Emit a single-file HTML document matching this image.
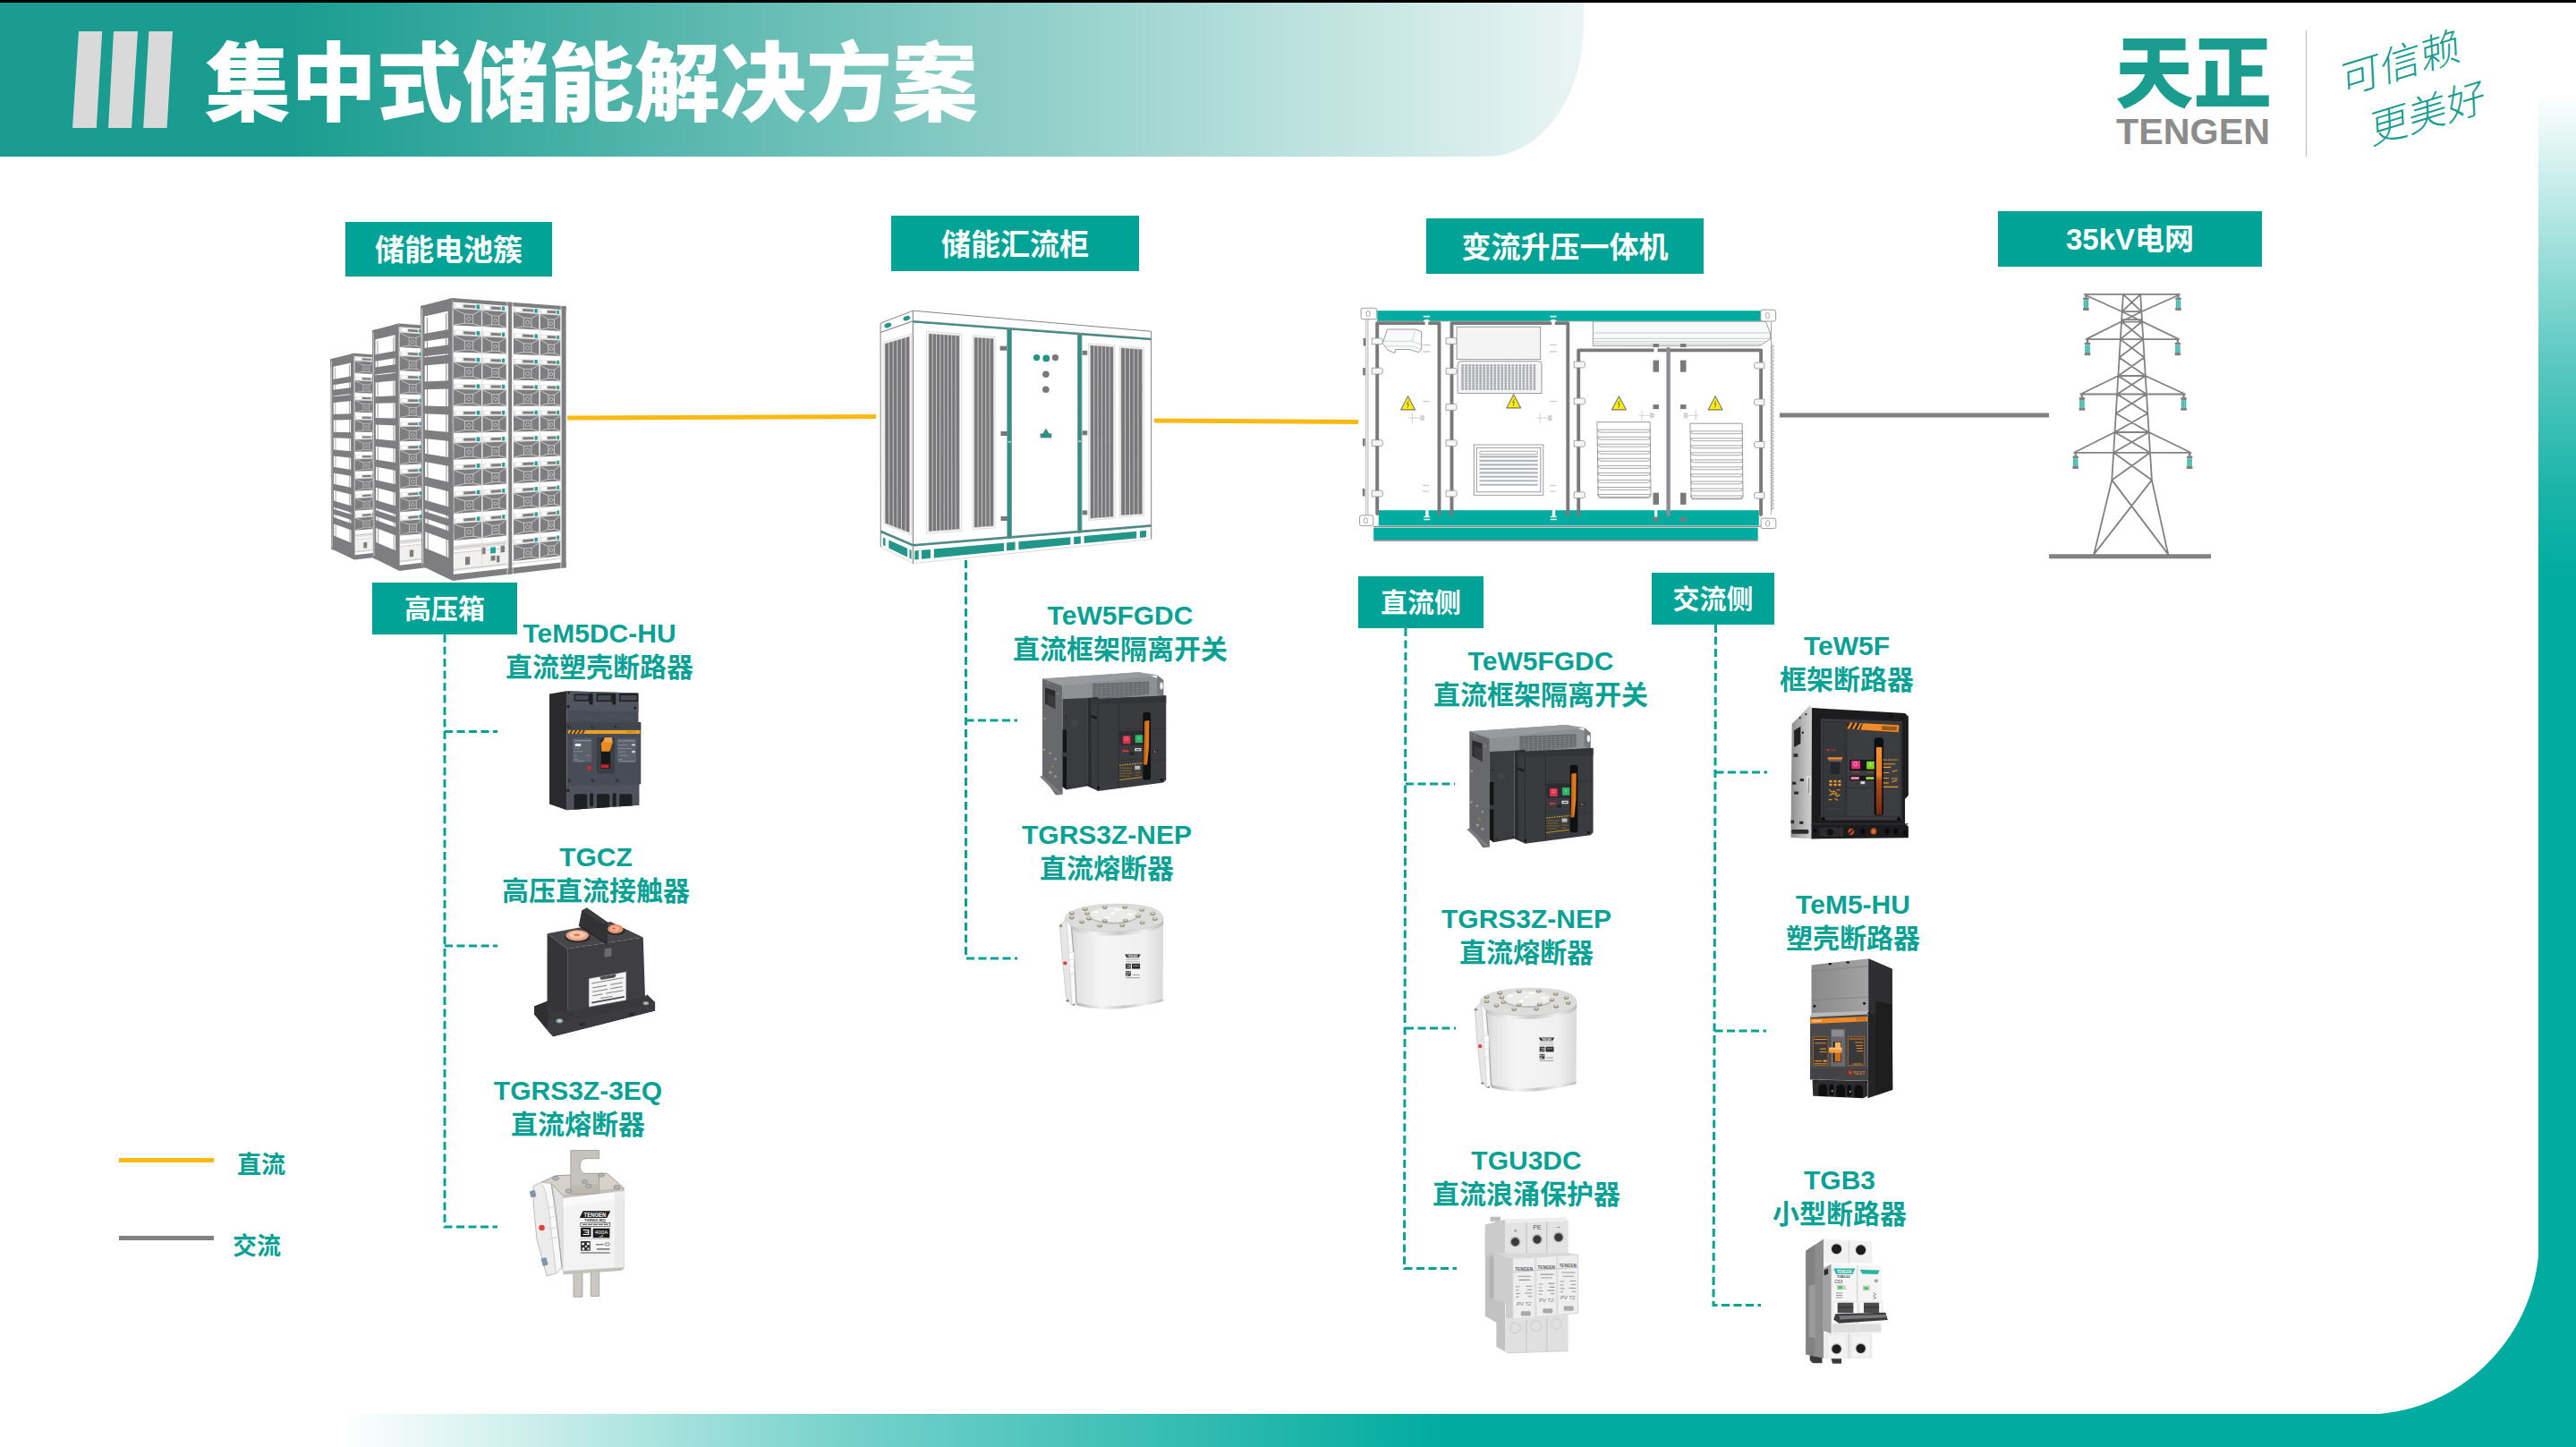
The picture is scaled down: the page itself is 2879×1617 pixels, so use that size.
<!DOCTYPE html>
<html lang="zh-CN">
<head>
<meta charset="utf-8">
<title>集中式储能解决方案</title>
<style>
html,body{margin:0;padding:0;}
body{width:2879px;height:1617px;position:relative;overflow:hidden;background:#fff;
 font-family:"Liberation Sans","Noto Sans CJK SC",sans-serif;}
.abs{position:absolute;}
#topline{left:0;top:0;width:2879px;height:3px;background:#000;}
#header{left:0;top:2px;width:1770px;height:173px;
 background:linear-gradient(90deg,#1a9d90 0,#1a9d90 330px,#e9f5f4 1770px);
 border-bottom-right-radius:108px 148px;}
#rstrip{left:2837px;top:105px;width:42px;height:1512px;
 background:linear-gradient(180deg,rgba(0,171,159,0) 0,rgba(0,171,159,.64) 296px,rgba(0,171,159,.9) 446px,#00ab9f 545px);}
#bbar{left:380px;top:1580px;width:2499px;height:37px;
 background:linear-gradient(90deg,rgba(0,171,159,0) 0,rgba(0,171,159,.55) 580px,#00ab9f 1240px);}
.bar{top:35px;width:31px;height:108px;background:#d9d9d9;transform:skewX(-5deg);}
#title{left:229px;top:23.5px;font-size:96px;line-height:140px;font-weight:900;color:#fff;white-space:nowrap;
 font-family:"Liberation Sans","Noto Sans CJK SC",sans-serif;letter-spacing:0;}
.lab{overflow:hidden;background:#00a396;color:#fff;font-weight:700;text-align:center;white-space:nowrap;}
.pt{color:#0aa195;font-weight:700;font-size:30px;line-height:37.5px;text-align:center;white-space:nowrap;width:400px;}
.leg{color:#0aa195;font-weight:700;font-size:27px;line-height:34px;white-space:nowrap;}
</style>
</head>
<body>
<div class="abs" id="header"></div>
<div class="abs" id="topline"></div>
<div class="abs" id="rstrip"></div>
<div class="abs" id="bbar"></div>
<div class="abs" id="title">集中式储能解决方案</div>

<!-- section labels -->
<div class="abs lab" style="left:386px;top:248px;width:231px;height:61px;font-size:33px;line-height:64px;">储能电池簇</div>
<div class="abs lab" style="left:996px;top:241px;width:277px;height:62px;font-size:33px;line-height:65px;">储能汇流柜</div>
<div class="abs lab" style="left:1594px;top:244px;width:310px;height:62px;font-size:33px;line-height:65px;">变流升压一体机</div>
<div class="abs lab" style="left:2233px;top:236px;width:295px;height:62px;font-size:33px;line-height:64px;">35kV电网</div>
<div class="abs lab" style="left:416px;top:651px;width:162px;height:58px;font-size:30px;line-height:60px;">高压箱</div>
<div class="abs lab" style="left:1518px;top:644px;width:140px;height:58px;font-size:30px;line-height:60px;">直流侧</div>
<div class="abs lab" style="left:1846px;top:640px;width:137px;height:58px;font-size:30px;line-height:60px;">交流侧</div>

<!-- product captions -->
<div class="abs pt" style="left:470px;top:689px;">TeM5DC-HU<br>直流塑壳断路器</div>
<div class="abs pt" style="left:466px;top:939px;">TGCZ<br>高压直流接触器</div>
<div class="abs pt" style="left:446px;top:1200px;">TGRS3Z-3EQ<br>直流熔断器</div>
<div class="abs pt" style="left:1052px;top:669px;">TeW5FGDC<br>直流框架隔离开关</div>
<div class="abs pt" style="left:1037px;top:914px;">TGRS3Z-NEP<br>直流熔断器</div>
<div class="abs pt" style="left:1522px;top:720px;">TeW5FGDC<br>直流框架隔离开关</div>
<div class="abs pt" style="left:1506px;top:1008px;">TGRS3Z-NEP<br>直流熔断器</div>
<div class="abs pt" style="left:1506px;top:1278px;">TGU3DC<br>直流浪涌保护器</div>
<div class="abs pt" style="left:1864px;top:703px;">TeW5F<br>框架断路器</div>
<div class="abs pt" style="left:1871px;top:992px;">TeM5-HU<br>塑壳断路器</div>
<div class="abs pt" style="left:1856px;top:1300px;">TGB3<br>小型断路器</div>

<!-- legend -->
<div class="abs" style="left:133px;top:1294px;width:106px;height:5px;background:#fdb913;"></div>
<div class="abs" style="left:133px;top:1381px;width:106px;height:5px;background:#808080;"></div>
<div class="abs leg" style="left:265px;top:1285px;">直流</div>
<div class="abs leg" style="left:260px;top:1375.5px;">交流</div>

<!-- main drawing layer -->
<svg class="abs" id="art" style="left:0;top:0" width="2879" height="1617" viewBox="0 0 2879 1617">
<g id="frame">
<path d="M2640 1581A197 197 0 0 0 2838 1383V1581Z" fill="#00ab9f"/>
<g fill="#d9d9d9"><path d="M88 35H114.2L107.8 143H81Z"/><path d="M127 35H154L147 143H121Z"/><path d="M166.4 35H193L186.6 143H160.2Z"/></g>
</g>
<g id="racks">
<use href="#rack" transform="translate(20.5,151.7) scale(0.742,0.73)"/>
<use href="#rack" transform="translate(21,70) scale(0.84,0.875)"/>
<g id="rack">
<polygon points="470.2,342.0 505.6,333.0 506.2,649.0 471.3,632.5" fill="#fff"/>
<polygon points="470.2,342.0 474.4,340.9 475.5,634.5 471.3,632.5" fill="#7e7e81"/>
<polygon points="500.6,334.3 505.6,333.0 506.2,649.0 501.3,646.7" fill="#7e7e81"/>
<polygon points="470.2,342.0 505.6,333.0 505.6,346.6 470.2,354.5" fill="#7e7e81"/>
<polygon points="473.9,372.9 502.1,367.9 502.1,377.2 473.9,381.5" fill="#7e7e81"/>
<polygon points="473.9,389.0 502.2,385.2 502.2,395.0 473.9,398.2" fill="#7e7e81"/>
<polygon points="473.9,399.4 502.2,396.3 502.2,406.0 474.0,408.5" fill="#7e7e81"/>
<polygon points="474.0,426.5 502.2,425.3 502.3,434.5 474.1,435.2" fill="#7e7e81"/>
<polygon points="474.1,453.6 502.3,454.3 502.3,463.5 474.2,462.3" fill="#7e7e81"/>
<polygon points="474.2,480.6 502.4,483.1 502.4,493.1 474.3,490.0" fill="#7e7e81"/>
<polygon points="474.3,506.8 502.4,511.2 502.4,521.0 474.4,516.1" fill="#7e7e81"/>
<polygon points="474.4,532.8 502.5,538.9 502.5,549.5 474.5,542.6" fill="#7e7e81"/>
<polygon points="474.5,558.7 502.5,566.7 502.6,577.1 474.6,568.5" fill="#7e7e81"/>
<polygon points="474.6,571.4 502.6,580.3 502.6,588.4 474.6,579.1" fill="#7e7e81"/>
<polygon points="474.6,584.0 502.6,593.8 502.6,604.3 474.6,593.9" fill="#7e7e81"/>
<polygon points="474.7,612.2 502.7,623.8 502.7,647.4 474.8,634.1" fill="#7e7e81"/>
<path d="M477.3 355.0L478.2 615.1M498.6 350.3L499.2 623.9" stroke="#7e7e81" stroke-width="0.9" fill="none"/>
<path d="M471.6 344.6L472.7 630.2" stroke="#fff" stroke-width="0.7" fill="none"/>
<polygon points="505.6,333.0 632.6,342.3 632.6,634.2 506.2,649.0" fill="#fff"/>
<polygon points="505.6,333.0 632.6,342.3 632.6,346.4 505.6,337.4" fill="#7e7e81"/>
<polygon points="506.2,642.0 632.6,627.8 632.6,634.2 506.2,649.0" fill="#7e7e81"/>
<polygon points="506.2,636.7 632.6,622.8 632.6,624.3 506.2,638.3" fill="#dcdad8"/>
<polygon points="568.1,337.6 571.9,337.9 572.2,641.3 568.4,641.7" fill="#7e7e81"/>
<polygon points="627.5,341.9 632.6,342.3 632.6,634.2 627.5,634.8" fill="#7e7e81"/>
<polygon points="505.6,333.0 506.4,333.1 507.0,648.9 506.2,649.0" fill="#7e7e81"/>
<g fill="#e4e3e2"><polygon points="506.9,338.4 537.9,340.6 537.9,346.8 506.9,344.7"/><polygon points="506.9,368.5 537.9,370.1 537.9,376.3 506.9,374.8"/><polygon points="507.0,398.6 538.0,399.7 538.0,405.8 507.0,404.9"/><polygon points="507.0,428.7 538.0,429.2 538.0,435.4 507.1,435.0"/><polygon points="507.1,458.8 538.0,458.7 538.0,464.9 507.1,465.1"/><polygon points="507.2,488.9 538.1,488.3 538.1,494.4 507.2,495.2"/><polygon points="507.2,519.0 538.1,517.8 538.1,523.9 507.2,525.3"/><polygon points="507.3,549.1 538.2,547.3 538.2,553.5 507.3,555.3"/><polygon points="507.3,579.2 538.2,576.9 538.2,583.0 507.3,585.4"/><polygon points="539.1,340.7 565.5,342.5 565.6,348.6 539.1,346.8"/><polygon points="539.2,370.2 565.6,371.6 565.6,377.6 539.2,376.3"/><polygon points="539.2,399.7 565.6,400.6 565.6,406.7 539.2,405.9"/><polygon points="539.3,429.2 565.6,429.6 565.6,435.7 539.3,435.4"/><polygon points="539.3,458.7 565.7,458.7 565.7,464.7 539.3,464.9"/><polygon points="539.3,488.2 565.7,487.7 565.7,493.7 539.4,494.4"/><polygon points="539.4,517.7 565.7,516.7 565.7,522.8 539.4,523.9"/><polygon points="539.4,547.2 565.8,545.8 565.8,551.8 539.4,553.4"/><polygon points="539.5,576.8 565.8,574.8 565.8,580.8 539.5,582.9"/><polygon points="573.9,343.1 602.4,345.1 602.4,351.0 573.9,349.1"/><polygon points="574.0,372.0 602.4,373.5 602.4,379.4 574.0,378.0"/><polygon points="574.0,400.9 602.4,401.8 602.4,407.8 574.0,406.9"/><polygon points="574.0,429.8 602.4,430.2 602.4,436.1 574.0,435.8"/><polygon points="574.0,458.6 602.4,458.6 602.4,464.5 574.0,464.7"/><polygon points="574.1,487.5 602.4,486.9 602.4,492.9 574.1,493.5"/><polygon points="574.1,516.4 602.5,515.3 602.5,521.2 574.1,522.4"/><polygon points="574.1,545.3 602.5,543.7 602.5,549.6 574.1,551.3"/><polygon points="574.1,574.2 602.5,572.0 602.5,577.9 574.1,580.2"/><polygon points="574.2,603.0 602.5,600.4 602.5,606.3 574.2,609.1"/><polygon points="603.6,345.2 626.3,346.8 626.3,352.6 603.6,351.1"/><polygon points="603.7,373.5 626.3,374.7 626.3,380.5 603.7,379.5"/><polygon points="603.7,401.9 626.3,402.7 626.3,408.5 603.7,407.8"/><polygon points="603.7,430.2 626.3,430.6 626.3,436.4 603.7,436.1"/><polygon points="603.7,458.6 626.3,458.5 626.3,464.3 603.7,464.5"/><polygon points="603.7,486.9 626.3,486.5 626.3,492.3 603.7,492.8"/><polygon points="603.7,515.3 626.3,514.4 626.3,520.2 603.7,521.2"/><polygon points="603.7,543.6 626.3,542.3 626.3,548.1 603.7,549.5"/><polygon points="603.8,571.9 626.3,570.3 626.3,576.1 603.8,577.8"/><polygon points="603.8,600.3 626.3,598.2 626.3,604.0 603.8,606.2"/></g>
<g fill="#7e7e81"><polygon points="506.9,344.7 537.9,346.8 537.9,365.1 506.9,363.4"/><polygon points="506.9,374.8 537.9,376.3 537.9,394.6 507.0,393.5"/><polygon points="507.0,404.9 538.0,405.8 538.0,424.1 507.0,423.5"/><polygon points="507.1,435.0 538.0,435.4 538.0,453.7 507.1,453.6"/><polygon points="507.1,465.1 538.0,464.9 538.1,483.2 507.2,483.7"/><polygon points="507.2,495.2 538.1,494.4 538.1,512.7 507.2,513.8"/><polygon points="507.2,525.3 538.1,523.9 538.2,542.3 507.3,543.9"/><polygon points="507.3,555.3 538.2,553.5 538.2,571.8 507.3,574.0"/><polygon points="507.3,585.4 538.2,583.0 538.2,601.3 507.4,604.1"/><polygon points="539.1,346.8 565.6,348.6 565.6,366.6 539.2,365.1"/><polygon points="539.2,376.3 565.6,377.6 565.6,395.6 539.2,394.6"/><polygon points="539.2,405.9 565.6,406.7 565.6,424.7 539.3,424.2"/><polygon points="539.3,435.4 565.6,435.7 565.7,453.7 539.3,453.7"/><polygon points="539.3,464.9 565.7,464.7 565.7,482.7 539.3,483.2"/><polygon points="539.4,494.4 565.7,493.7 565.7,511.7 539.4,512.7"/><polygon points="539.4,523.9 565.7,522.8 565.8,540.8 539.4,542.2"/><polygon points="539.4,553.4 565.8,551.8 565.8,569.8 539.5,571.7"/><polygon points="539.5,582.9 565.8,580.8 565.8,598.8 539.5,601.2"/><polygon points="573.9,349.1 602.4,351.0 602.4,368.6 574.0,367.1"/><polygon points="574.0,378.0 602.4,379.4 602.4,397.0 574.0,395.9"/><polygon points="574.0,406.9 602.4,407.8 602.4,425.3 574.0,424.8"/><polygon points="574.0,435.8 602.4,436.1 602.4,453.7 574.0,453.7"/><polygon points="574.0,464.7 602.4,464.5 602.4,482.1 574.1,482.6"/><polygon points="574.1,493.5 602.4,492.9 602.5,510.4 574.1,511.4"/><polygon points="574.1,522.4 602.5,521.2 602.5,538.8 574.1,540.3"/><polygon points="574.1,551.3 602.5,549.6 602.5,567.2 574.1,569.2"/><polygon points="574.1,580.2 602.5,577.9 602.5,595.5 574.2,598.1"/><polygon points="574.2,609.1 602.5,606.3 602.5,623.9 574.2,627.0"/><polygon points="603.6,351.1 626.3,352.6 626.3,369.9 603.7,368.7"/><polygon points="603.7,379.5 626.3,380.5 626.3,397.9 603.7,397.0"/><polygon points="603.7,407.8 626.3,408.5 626.3,425.8 603.7,425.4"/><polygon points="603.7,436.1 626.3,436.4 626.3,453.7 603.7,453.7"/><polygon points="603.7,464.5 626.3,464.3 626.3,481.7 603.7,482.1"/><polygon points="603.7,492.8 626.3,492.3 626.3,509.6 603.7,510.4"/><polygon points="603.7,521.2 626.3,520.2 626.3,537.5 603.7,538.7"/><polygon points="603.7,549.5 626.3,548.1 626.3,565.5 603.7,567.1"/><polygon points="603.8,577.8 626.3,576.1 626.3,593.4 603.8,595.4"/><polygon points="603.8,606.2 626.3,604.0 626.3,621.3 603.8,623.8"/></g>
<g fill="#fff"><polygon points="509.4,339.5 516.2,339.9 516.2,343.5 509.4,343.1"/><polygon points="509.4,369.5 516.2,369.9 516.2,373.4 509.4,373.1"/><polygon points="509.5,399.6 516.3,399.8 516.3,403.4 509.5,403.2"/><polygon points="509.5,429.6 516.3,429.7 516.3,433.3 509.5,433.2"/><polygon points="509.6,459.6 516.4,459.6 516.4,463.2 509.6,463.3"/><polygon points="509.6,489.7 516.4,489.6 516.4,493.1 509.6,493.3"/><polygon points="509.7,519.7 516.5,519.5 516.5,523.1 509.7,523.3"/><polygon points="509.7,549.8 516.5,549.4 516.6,553.0 509.8,553.4"/><polygon points="509.8,579.8 516.6,579.3 516.6,582.9 509.8,583.4"/><polygon points="541.2,341.7 547.1,342.1 547.1,345.6 541.3,345.2"/><polygon points="541.3,371.1 547.1,371.4 547.1,375.0 541.3,374.7"/><polygon points="541.3,400.6 547.1,400.8 547.1,404.3 541.3,404.2"/><polygon points="541.4,430.1 547.2,430.2 547.2,433.7 541.4,433.6"/><polygon points="541.4,459.6 547.2,459.5 547.2,463.1 541.4,463.1"/><polygon points="541.5,489.0 547.3,488.9 547.3,492.4 541.5,492.6"/><polygon points="541.5,518.5 547.3,518.3 547.3,521.8 541.5,522.0"/><polygon points="541.5,548.0 547.3,547.6 547.3,551.2 541.5,551.5"/><polygon points="541.6,577.4 547.4,577.0 547.4,580.5 541.6,581.0"/><polygon points="576.2,344.1 582.5,344.5 582.5,348.0 576.2,347.6"/><polygon points="576.2,372.9 582.5,373.3 582.5,376.7 576.2,376.4"/><polygon points="576.3,401.8 582.5,402.0 582.5,405.4 576.3,405.2"/><polygon points="576.3,430.6 582.5,430.7 582.5,434.2 576.3,434.1"/><polygon points="576.3,459.5 582.6,459.4 582.6,462.9 576.3,462.9"/><polygon points="576.3,488.3 582.6,488.2 582.6,491.6 576.3,491.8"/><polygon points="576.4,517.1 582.6,516.9 582.6,520.3 576.4,520.6"/><polygon points="576.4,546.0 582.6,545.6 582.6,549.1 576.4,549.4"/><polygon points="576.4,574.8 582.6,574.3 582.6,577.8 576.4,578.3"/><polygon points="576.4,603.6 582.7,603.1 582.7,606.5 576.4,607.1"/><polygon points="605.5,346.1 610.4,346.5 610.4,349.9 605.5,349.5"/><polygon points="605.5,374.4 610.4,374.7 610.4,378.1 605.5,377.8"/><polygon points="605.5,402.8 610.4,402.9 610.4,406.3 605.5,406.2"/><polygon points="605.5,431.1 610.5,431.1 610.5,434.5 605.5,434.5"/><polygon points="605.5,459.4 610.5,459.4 610.5,462.7 605.5,462.8"/><polygon points="605.5,487.7 610.5,487.6 610.5,491.0 605.5,491.1"/><polygon points="605.5,516.0 610.5,515.8 610.5,519.2 605.5,519.4"/><polygon points="605.5,544.3 610.5,544.0 610.5,547.4 605.5,547.7"/><polygon points="605.6,572.6 610.5,572.2 610.5,575.6 605.6,576.0"/><polygon points="605.6,600.9 610.5,600.5 610.5,603.8 605.6,604.3"/></g>
<g fill="#7e7e81"><polygon points="518.0,340.4 531.1,341.3 531.1,344.2 518.0,343.4"/><polygon points="518.1,370.3 531.1,370.9 531.1,373.9 518.1,373.2"/><polygon points="518.1,400.1 531.1,400.6 531.1,403.5 518.1,403.1"/><polygon points="518.2,430.0 531.2,430.2 531.2,433.2 518.2,433.0"/><polygon points="518.2,459.9 531.2,459.9 531.2,462.8 518.2,462.9"/><polygon points="518.3,489.8 531.3,489.5 531.3,492.5 518.3,492.8"/><polygon points="518.3,519.7 531.3,519.2 531.3,522.2 518.4,522.7"/><polygon points="518.4,549.6 531.4,548.8 531.4,551.8 518.4,552.6"/><polygon points="518.4,579.5 531.4,578.5 531.4,581.5 518.5,582.5"/><polygon points="548.6,342.5 559.7,343.3 559.7,346.2 548.6,345.4"/><polygon points="548.7,371.8 559.8,372.4 559.8,375.3 548.7,374.8"/><polygon points="548.7,401.2 559.8,401.5 559.8,404.4 548.7,404.1"/><polygon points="548.8,430.5 559.8,430.7 559.8,433.6 548.8,433.4"/><polygon points="548.8,459.8 559.9,459.8 559.9,462.7 548.8,462.8"/><polygon points="548.8,489.2 559.9,488.9 559.9,491.8 548.8,492.1"/><polygon points="548.9,518.5 559.9,518.1 559.9,521.0 548.9,521.4"/><polygon points="548.9,547.8 560.0,547.2 560.0,550.1 548.9,550.8"/><polygon points="548.9,577.2 560.0,576.3 560.0,579.3 549.0,580.1"/><polygon points="584.2,344.9 596.1,345.8 596.1,348.6 584.2,347.8"/><polygon points="584.2,373.6 596.1,374.3 596.1,377.1 584.2,376.5"/><polygon points="584.2,402.3 596.2,402.7 596.2,405.6 584.2,405.2"/><polygon points="584.2,431.0 596.2,431.2 596.2,434.1 584.2,433.9"/><polygon points="584.3,459.7 596.2,459.7 596.2,462.5 584.3,462.6"/><polygon points="584.3,488.4 596.2,488.2 596.2,491.0 584.3,491.3"/><polygon points="584.3,517.1 596.2,516.6 596.2,519.5 584.3,520.0"/><polygon points="584.3,545.8 596.2,545.1 596.2,548.0 584.3,548.7"/><polygon points="584.3,574.5 596.3,573.6 596.3,576.4 584.3,577.4"/><polygon points="584.4,603.2 596.3,602.1 596.3,604.9 584.4,606.1"/><polygon points="611.8,346.9 621.3,347.5 621.3,350.3 611.8,349.7"/><polygon points="611.8,375.1 621.3,375.5 621.3,378.3 611.8,377.9"/><polygon points="611.8,403.3 621.3,403.6 621.3,406.4 611.8,406.1"/><polygon points="611.8,431.4 621.3,431.6 621.3,434.4 611.8,434.3"/><polygon points="611.8,459.6 621.3,459.6 621.3,462.4 611.8,462.5"/><polygon points="611.8,487.8 621.3,487.6 621.3,490.4 611.8,490.7"/><polygon points="611.8,516.0 621.3,515.7 621.3,518.5 611.8,518.8"/><polygon points="611.8,544.2 621.3,543.7 621.3,546.5 611.9,547.0"/><polygon points="611.9,572.4 621.3,571.7 621.3,574.5 611.9,575.2"/><polygon points="611.9,600.6 621.3,599.7 621.3,602.5 611.9,603.4"/></g>
<g fill="#1aa396"><polygon points="532.6,340.5 536.0,340.7 536.0,345.2 532.6,344.9"/><polygon points="532.6,370.1 536.1,370.3 536.1,374.7 532.7,374.6"/><polygon points="532.7,399.7 536.1,399.9 536.1,404.3 532.7,404.2"/><polygon points="532.7,429.4 536.1,429.4 536.1,433.9 532.7,433.8"/><polygon points="532.8,459.0 536.2,459.0 536.2,463.4 532.8,463.4"/><polygon points="532.8,488.6 536.2,488.5 536.2,493.0 532.8,493.1"/><polygon points="532.9,518.2 536.3,518.1 536.3,522.5 532.9,522.7"/><polygon points="532.9,547.9 536.3,547.7 536.3,552.1 532.9,552.3"/><polygon points="533.0,577.5 536.4,577.2 536.4,581.7 533.0,581.9"/><polygon points="561.1,342.5 564.0,342.7 564.0,347.0 561.1,346.8"/><polygon points="561.1,371.6 564.0,371.7 564.0,376.1 561.1,376.0"/><polygon points="561.1,400.7 564.0,400.8 564.0,405.2 561.1,405.1"/><polygon points="561.2,429.8 564.1,429.9 564.1,434.2 561.2,434.2"/><polygon points="561.2,458.9 564.1,458.9 564.1,463.3 561.2,463.3"/><polygon points="561.2,488.0 564.1,488.0 564.1,492.3 561.2,492.4"/><polygon points="561.3,517.1 564.2,517.0 564.2,521.4 561.3,521.5"/><polygon points="561.3,546.3 564.2,546.1 564.2,550.4 561.3,550.6"/><polygon points="561.3,575.4 564.2,575.1 564.2,579.5 561.3,579.7"/><polygon points="597.5,345.0 600.7,345.2 600.7,349.5 597.5,349.3"/><polygon points="597.6,373.5 600.7,373.6 600.7,377.9 597.6,377.7"/><polygon points="597.6,401.9 600.7,402.0 600.7,406.3 597.6,406.2"/><polygon points="597.6,430.4 600.7,430.4 600.7,434.7 597.6,434.6"/><polygon points="597.6,458.8 600.7,458.8 600.7,463.1 597.6,463.1"/><polygon points="597.6,487.3 600.7,487.2 600.7,491.5 597.6,491.5"/><polygon points="597.6,515.7 600.8,515.6 600.8,519.9 597.6,520.0"/><polygon points="597.7,544.2 600.8,544.0 600.8,548.3 597.7,548.5"/><polygon points="597.7,572.6 600.8,572.4 600.8,576.7 597.7,576.9"/><polygon points="597.7,601.1 600.8,600.8 600.8,605.1 597.7,605.4"/><polygon points="622.4,346.8 624.9,346.9 624.9,351.1 622.4,351.0"/><polygon points="622.4,374.8 624.9,374.9 624.9,379.1 622.4,379.0"/><polygon points="622.4,402.8 624.9,402.8 624.9,407.0 622.4,407.0"/><polygon points="622.4,430.8 624.9,430.8 624.9,435.0 622.4,435.0"/><polygon points="622.4,458.8 624.9,458.8 624.9,463.0 622.4,463.0"/><polygon points="622.4,486.8 624.9,486.7 624.9,490.9 622.4,491.0"/><polygon points="622.4,514.8 624.9,514.7 624.9,518.9 622.4,519.0"/><polygon points="622.4,542.8 624.9,542.6 624.9,546.8 622.4,547.0"/><polygon points="622.4,570.8 624.9,570.6 624.9,574.8 622.4,575.0"/><polygon points="622.4,598.8 624.9,598.5 624.9,602.7 622.4,603.0"/></g>
<path d="M507.8 345.4L519.3 350.9M536.9 347.3L528.6 351.5M507.9 362.8L519.3 361.1M537.0 364.4L528.6 361.6M519.3 350.9L528.6 351.5L528.6 361.6L519.3 361.1ZM507.9 375.4L519.3 380.8M537.0 376.8L528.6 381.2M507.9 392.9L519.4 390.9M537.0 394.0L528.7 391.3M519.3 380.8L528.6 381.2L528.7 391.3L519.4 390.9ZM507.9 405.5L519.4 410.6M537.0 406.4L528.7 410.9M508.0 423.0L519.4 420.8M537.1 423.5L528.7 421.0M519.4 410.6L528.7 410.9L528.7 421.0L519.4 420.8ZM508.0 435.6L519.4 440.5M537.1 435.9L528.7 440.6M508.0 453.0L519.5 450.7M537.1 453.1L528.7 450.7M519.4 440.5L528.7 440.6L528.7 450.7L519.5 450.7ZM508.0 465.7L519.5 470.4M537.1 465.5L528.8 470.3M508.1 483.1L519.5 480.5M537.1 482.6L528.8 480.4M519.5 470.4L528.8 470.3L528.8 480.4L519.5 480.5ZM508.1 495.7L519.5 500.2M537.2 495.0L528.8 500.0M508.1 513.2L519.6 510.4M537.2 512.2L528.8 510.1M519.5 500.2L528.8 500.0L528.8 510.1L519.6 510.4ZM508.2 525.8L519.6 530.1M537.2 524.6L528.9 529.7M508.2 543.3L519.6 540.3M537.2 541.7L528.9 539.8M519.6 530.1L528.9 529.7L528.9 539.8L519.6 540.3ZM508.2 555.9L519.7 560.0M537.2 554.1L528.9 559.4M508.2 573.3L519.7 570.1M537.3 571.3L528.9 569.5M519.7 560.0L528.9 559.4L528.9 569.5L519.7 570.1ZM508.3 586.0L519.7 589.8M537.3 583.7L529.0 589.1M508.3 603.4L519.7 600.0M537.3 600.8L529.0 599.2M519.7 589.8L529.0 589.1L529.0 599.2L519.7 600.0ZM539.9 347.5L549.7 352.8M564.8 349.1L557.6 353.3M540.0 364.6L549.7 362.8M564.8 366.0L557.6 363.2M549.7 352.8L557.6 353.3L557.6 363.2L549.7 362.8ZM540.0 377.0L549.8 382.1M564.8 378.2L557.7 382.5M540.0 394.1L549.8 392.1M564.8 395.0L557.7 392.4M549.8 382.1L557.7 382.5L557.7 392.4L549.8 392.1ZM540.0 406.5L549.8 411.5M564.8 407.2L557.7 411.7M540.0 423.6L549.8 421.4M564.8 424.1L557.7 421.6M549.8 411.5L557.7 411.7L557.7 421.6L549.8 421.4ZM540.1 436.0L549.8 440.8M564.9 436.3L557.7 440.8M540.1 453.1L549.8 450.7M564.9 453.1L557.8 450.8M549.8 440.8L557.7 440.8L557.8 450.8L549.8 450.7ZM540.1 465.5L549.9 470.1M564.9 465.3L557.8 470.0M540.1 482.6L549.9 480.1M564.9 482.1L557.8 479.9M549.9 470.1L557.8 470.0L557.8 479.9L549.9 480.1ZM540.1 495.0L549.9 499.4M564.9 494.3L557.8 499.2M540.2 512.1L549.9 509.4M564.9 511.2L557.8 509.1M549.9 499.4L557.8 499.2L557.8 509.1L549.9 509.4ZM540.2 524.4L549.9 528.7M564.9 523.4L557.8 528.4M540.2 541.6L550.0 538.7M565.0 540.2L557.9 538.3M549.9 528.7L557.8 528.4L557.9 538.3L550.0 538.7ZM540.2 553.9L550.0 558.0M565.0 552.4L557.9 557.5M540.3 571.0L550.0 568.0M565.0 569.3L557.9 567.5M550.0 558.0L557.9 557.5L557.9 567.5L550.0 568.0ZM540.3 583.4L550.0 587.4M565.0 581.5L557.9 586.7M540.3 600.5L550.0 597.3M565.0 598.3L557.9 596.6M550.0 587.4L557.9 586.7L557.9 596.6L550.0 597.3ZM574.8 349.8L585.3 355.1M601.5 351.5L593.8 355.6M574.8 366.5L585.3 364.8M601.5 368.0L593.9 365.3M585.3 355.1L593.8 355.6L593.9 365.3L585.3 364.8ZM574.8 378.6L585.3 383.7M601.5 379.9L593.9 384.1M574.8 395.4L585.3 393.5M601.5 396.4L593.9 393.8M585.3 383.7L593.9 384.1L593.9 393.8L585.3 393.5ZM574.8 407.5L585.4 412.4M601.6 408.3L593.9 412.6M574.9 424.2L585.4 422.2M601.6 424.8L593.9 422.3M585.4 412.4L593.9 412.6L593.9 422.3L585.4 422.2ZM574.9 436.4L585.4 441.1M601.6 436.7L593.9 441.2M574.9 453.1L585.4 450.8M601.6 453.1L593.9 450.9M585.4 441.1L593.9 441.2L593.9 450.9L585.4 450.8ZM574.9 465.2L585.4 469.8M601.6 465.1L593.9 469.7M574.9 482.0L585.4 479.5M601.6 481.5L593.9 479.4M585.4 469.8L593.9 469.7L593.9 479.4L585.4 479.5ZM574.9 494.1L585.4 498.4M601.6 493.4L593.9 498.2M574.9 510.8L585.4 508.2M601.6 509.9L593.9 507.9M585.4 498.4L593.9 498.2L593.9 507.9L585.4 508.2ZM574.9 523.0L585.4 527.1M601.6 521.8L594.0 526.7M575.0 539.7L585.5 536.9M601.6 538.3L594.0 536.4M585.4 527.1L594.0 526.7L594.0 536.4L585.5 536.9ZM575.0 551.8L585.5 555.8M601.6 550.2L594.0 555.2M575.0 568.6L585.5 565.5M601.6 566.7L594.0 564.9M585.5 555.8L594.0 555.2L594.0 564.9L585.5 565.5ZM575.0 580.7L585.5 584.4M601.6 578.6L594.0 583.8M575.0 597.4L585.5 594.2M601.6 595.0L594.0 593.4M585.5 584.4L594.0 583.8L594.0 593.4L585.5 594.2ZM575.0 609.6L585.5 613.1M601.7 607.0L594.0 612.3M575.0 626.3L585.5 622.9M601.7 623.4L594.0 622.0M585.5 613.1L594.0 612.3L594.0 622.0L585.5 622.9ZM604.3 351.7L612.7 356.8M625.6 353.1L619.5 357.2M604.3 368.2L612.7 366.4M625.6 369.3L619.5 366.8M612.7 356.8L619.5 357.2L619.5 366.8L612.7 366.4ZM604.3 380.1L612.7 385.0M625.6 381.1L619.5 385.3M604.3 396.5L612.7 394.5M625.6 397.3L619.5 394.8M612.7 385.0L619.5 385.3L619.5 394.8L612.7 394.5ZM604.4 408.4L612.7 413.1M625.6 409.0L619.5 413.3M604.4 424.8L612.7 422.7M625.6 425.2L619.5 422.9M612.7 413.1L619.5 413.3L619.5 422.9L612.7 422.7ZM604.4 436.7L612.7 441.3M625.6 437.0L619.5 441.4M604.4 453.1L612.7 450.9M625.6 453.2L619.5 450.9M612.7 441.3L619.5 441.4L619.5 450.9L612.7 450.9ZM604.4 465.0L612.7 469.5M625.6 464.9L619.5 469.4M604.4 481.5L612.7 479.1M625.6 481.1L619.5 479.0M612.7 469.5L619.5 469.4L619.5 479.0L612.7 479.1ZM604.4 493.4L612.7 497.7M625.6 492.9L619.5 497.5M604.4 509.8L612.7 507.3M625.6 509.1L619.5 507.0M612.7 497.7L619.5 497.5L619.5 507.0L612.7 507.3ZM604.4 521.7L612.7 525.9M625.6 520.8L619.5 525.5M604.4 538.1L612.7 535.4M625.6 537.0L619.5 535.1M612.7 525.9L619.5 525.5L619.5 535.1L612.7 535.4ZM604.4 550.0L612.8 554.0M625.6 548.7L619.5 553.6M604.4 566.5L612.8 563.6M625.6 565.0L619.5 563.1M612.8 554.0L619.5 553.6L619.5 563.1L612.8 563.6ZM604.4 578.4L612.8 582.2M625.6 576.7L619.5 581.7M604.4 594.8L612.8 591.8M625.6 592.9L619.5 591.2M612.8 582.2L619.5 581.7L619.5 591.2L612.8 591.8ZM604.4 606.7L612.8 610.4M625.6 604.6L619.5 609.7M604.4 623.1L612.8 620.0M625.6 620.8L619.5 619.3M612.8 610.4L619.5 609.7L619.5 619.3L612.8 620.0Z" stroke="#dcdad8" stroke-width="0.8" fill="none"/>
<g fill="none" stroke="#dcdad8" stroke-width="0.7"><circle cx="523.9" cy="356.3" r="2.2"/><circle cx="524.0" cy="386.0" r="2.2"/><circle cx="524.0" cy="415.8" r="2.2"/><circle cx="524.1" cy="445.6" r="2.2"/><circle cx="524.1" cy="475.4" r="2.2"/><circle cx="524.2" cy="505.2" r="2.2"/><circle cx="524.2" cy="535.0" r="2.2"/><circle cx="524.3" cy="564.7" r="2.2"/><circle cx="524.3" cy="594.5" r="2.2"/><circle cx="553.7" cy="358.0" r="1.9"/><circle cx="553.7" cy="387.3" r="1.9"/><circle cx="553.8" cy="416.5" r="1.9"/><circle cx="553.8" cy="445.8" r="1.9"/><circle cx="553.8" cy="475.0" r="1.9"/><circle cx="553.9" cy="504.3" r="1.9"/><circle cx="553.9" cy="533.5" r="1.9"/><circle cx="553.9" cy="562.8" r="1.9"/><circle cx="554.0" cy="592.0" r="1.9"/><circle cx="589.6" cy="360.2" r="2.2"/><circle cx="589.6" cy="388.8" r="2.2"/><circle cx="589.6" cy="417.4" r="2.2"/><circle cx="589.6" cy="446.0" r="2.2"/><circle cx="589.7" cy="474.6" r="2.2"/><circle cx="589.7" cy="503.2" r="2.2"/><circle cx="589.7" cy="531.8" r="2.2"/><circle cx="589.7" cy="560.4" r="2.2"/><circle cx="589.7" cy="589.0" r="2.2"/><circle cx="589.8" cy="617.6" r="2.2"/><circle cx="616.1" cy="361.8" r="1.9"/><circle cx="616.1" cy="389.9" r="1.9"/><circle cx="616.1" cy="418.0" r="1.9"/><circle cx="616.1" cy="446.1" r="1.9"/><circle cx="616.1" cy="474.2" r="1.9"/><circle cx="616.1" cy="502.4" r="1.9"/><circle cx="616.1" cy="530.5" r="1.9"/><circle cx="616.1" cy="558.6" r="1.9"/><circle cx="616.1" cy="586.7" r="1.9"/><circle cx="616.1" cy="614.8" r="1.9"/></g>
<polygon points="507.4,609.6 565.8,604.1 565.8,609.6 507.4,615.3" fill="#e4e3e2"/>
<polygon points="507.4,617.8 565.8,612.0 565.8,630.1 507.4,636.5" fill="#f1f0ef"/>
<path d="M507.4 612.1L565.8 606.6M507.4 617.8L565.8 612.0M507.4 636.5L565.8 630.1" stroke="#bdbcbb" stroke-width="0.7" fill="none"/>
<polygon points="520.0,622.6 525.2,622.1 525.2,630.8 520.0,631.4" fill="#7e7e81"/>
<polygon points="538.0,612.1 542.6,611.7 542.6,619.1 538.0,619.5" fill="#7e7e81"/>
<polygon points="548.2,611.7 553.9,611.2 553.9,617.9 548.2,618.5" fill="#1aa396"/>
<polygon points="548.5,621.3 553.6,620.7 553.6,626.3 548.5,626.8" fill="#7e7e81"/>
<polygon points="559.5,610.0 564.1,609.6 564.1,616.9 559.5,617.4" fill="#7e7e81"/>
<polygon points="555.0,621.2 558.4,620.8 558.4,628.2 555.0,628.6" fill="#7e7e81"/>
<path d="M538.5 339.7L538.9 632.8M603.0 344.3L603.1 625.7M566.8 337.5L567.1 641.9M572.9 337.9L573.2 641.2M626.9 341.9L626.9 634.9" stroke="#dcdad8" stroke-width="0.9" fill="none"/>
</g>
</g>
<g id="cabinet">
<polygon points="984.1,361.2 1020.4,347.2 1020.4,610.5 984.3,595.0" fill="#fff" stroke="#858588" stroke-width="1" stroke-linejoin="round"/>
<polygon points="1020.4,347.2 1286.6,370.3 1286.7,588.5 1020.4,610.5" fill="#fff" stroke="#858588" stroke-width="1" stroke-linejoin="round"/>
<polygon points="984.3,595.0 1020.4,610.5 1020.4,629.5 984.3,611.2" fill="#fff" stroke="#d4d0cf" stroke-width="0.8"/>
<polygon points="1020.4,610.5 1286.7,588.5 1286.7,602.6 1020.4,629.5" fill="#fff" stroke="#d4d0cf" stroke-width="0.8"/>
<path d="M984.1 371.5L1020.4 358.8" stroke="#858588" stroke-width="1.2" fill="none"/>
<path d="M1020.4 359.3L1286.6 379.0" stroke="#858588" stroke-width="2.6" fill="none"/>
<path d="M1020.4 359.6L1286.6 379.2" stroke="#23968a" stroke-width="1.3" fill="none"/>
<path d="M1020.4 609.2L1286.7 587.4M984.3 593.8L1020.4 609.2" stroke="#858588" stroke-width="2.6" fill="none"/>
<path d="M1020.4 609.4L1286.7 587.6M984.3 594.1L1020.4 609.4" stroke="#23968a" stroke-width="1.3" fill="none"/>
<ellipse cx="992.1" cy="363.5" rx="4" ry="2.6" fill="#23968a" transform="rotate(-21 992.1 362.9)"/>
<ellipse cx="1013.1" cy="355.7" rx="4" ry="2.6" fill="#23968a" transform="rotate(-21 1013.1 355.1)"/>
<polygon points="987.0,382.8 1018.6,373.0 1018.6,598.2 987.2,585.8" fill="#fff" stroke="#d4d0cf" stroke-width="0.8"/><polygon points="988.9,384.1 1016.7,375.7 1016.7,595.4 989.1,584.7" fill="#78787b" stroke="#d4d0cf" stroke-width="0.6"/><path d="M993.5 382.7L993.7 586.5M998.2 381.3L998.3 588.3M1002.8 379.9L1002.9 590.0M1007.4 378.5L1007.5 591.8M1012.1 377.1L1012.1 593.6" stroke="#d4d0cf" stroke-width="0.9" fill="none"/>
<polygon points="1035.6,370.4 1074.7,373.3 1074.7,593.3 1035.6,596.2" fill="#fff" stroke="#d4d0cf" stroke-width="0.8"/><polygon points="1037.9,372.7 1072.4,375.1 1072.4,591.4 1037.9,594.0" fill="#78787b" stroke="#d4d0cf" stroke-width="0.6"/><path d="M1042.2 373.0L1042.2 593.6M1046.5 373.3L1046.5 593.3M1050.8 373.6L1050.8 593.0M1055.1 373.9L1055.2 592.7M1059.4 374.2L1059.5 592.4M1063.7 374.5L1063.8 592.1M1068.1 374.8L1068.1 591.8" stroke="#d4d0cf" stroke-width="0.9" fill="none"/>
<polygon points="1087.2,374.7 1112.0,376.5 1112.0,589.8 1087.2,591.6" fill="#fff" stroke="#d4d0cf" stroke-width="0.8"/><polygon points="1088.7,376.8 1110.5,378.3 1110.5,587.9 1088.7,589.5" fill="#78787b" stroke="#d4d0cf" stroke-width="0.6"/><path d="M1093.1 377.1L1093.1 589.2M1097.4 377.4L1097.4 588.9M1101.8 377.7L1101.8 588.6M1106.1 378.0L1106.2 588.2" stroke="#d4d0cf" stroke-width="0.9" fill="none"/>
<polygon points="1216.6,383.8 1246.1,385.9 1246.2,579.2 1216.7,581.4" fill="#fff" stroke="#d4d0cf" stroke-width="0.8"/><polygon points="1218.4,385.7 1244.4,387.6 1244.4,577.6 1218.4,579.4" fill="#78787b" stroke="#d4d0cf" stroke-width="0.6"/><path d="M1222.7 386.1L1222.8 579.1M1227.0 386.4L1227.1 578.8M1231.4 386.7L1231.4 578.5M1235.7 387.0L1235.8 578.2M1240.0 387.3L1240.1 577.9" stroke="#d4d0cf" stroke-width="0.9" fill="none"/>
<polygon points="1251.2,386.7 1278.4,388.7 1278.4,576.0 1251.3,578.0" fill="#fff" stroke="#d4d0cf" stroke-width="0.8"/><polygon points="1252.8,388.6 1276.7,390.3 1276.8,574.4 1252.9,576.1" fill="#78787b" stroke="#d4d0cf" stroke-width="0.6"/><path d="M1257.6 389.0L1257.7 575.7M1262.4 389.3L1262.5 575.4M1267.2 389.7L1267.2 575.0M1271.9 390.0L1272.0 574.7" stroke="#d4d0cf" stroke-width="0.9" fill="none"/>
<polygon points="1125.8,367.4 1130.3,367.8 1130.4,601.4 1125.9,601.8" fill="#23968a" stroke="#858588" stroke-width="0.9"/>
<path d="M1126.4 493.8L1129.8 493.8" stroke="#dff0ee" stroke-width="1.2" fill="none"/>
<polygon points="1204.6,373.6 1208.9,374.0 1208.9,594.9 1204.7,595.3" fill="#23968a" stroke="#858588" stroke-width="0.9"/>
<path d="M1205.2 493.2L1208.4 493.1" stroke="#dff0ee" stroke-width="1.2" fill="none"/>
<rect x="1117.6" y="386.7" width="7.6" height="5" fill="#78787b"/>
<rect x="1118.5" y="482.0" width="7.6" height="5" fill="#78787b"/>
<rect x="1118.5" y="577.0" width="7.6" height="5" fill="#78787b"/>
<rect x="1209.6" y="391.8" width="5.6" height="5" fill="#78787b"/>
<rect x="1209.6" y="481.3" width="5.6" height="5" fill="#78787b"/>
<rect x="1209.6" y="570.4" width="5.6" height="5" fill="#78787b"/>
<circle cx="1158.6" cy="399.6" r="3.7" fill="#23968a"/><circle cx="1169.3" cy="400.4" r="3.9" fill="#23968a"/><circle cx="1179.4" cy="399.6" r="3.7" fill="#78787b"/>
<circle cx="1168.9" cy="418.3" r="3.8" fill="#78787b"/><circle cx="1168.9" cy="435.3" r="3.8" fill="#78787b"/>
<path d="M1163 489h12v-4.2h-2.6l-3.4-5.6l-3.4 5.6h-2.6z" fill="#23968a" stroke="#78787b" stroke-width="0.8"/>
<polygon points="1022.3,615.5 1026.7,615.1 1026.7,625.1 1022.3,625.5" fill="#23968a"/>
<polygon points="1029.9,614.8 1040.0,613.9 1040.0,623.8 1029.9,624.8" fill="#23968a"/>
<polygon points="1043.8,613.6 1122.0,606.7 1122.0,615.8 1043.8,623.4" fill="#23968a"/>
<polygon points="1125.1,606.5 1134.6,605.6 1134.6,614.6 1125.1,615.5" fill="#23968a"/>
<polygon points="1138.4,605.3 1196.4,600.2 1196.4,608.6 1138.4,614.2" fill="#23968a"/>
<polygon points="1200.2,599.9 1207.8,599.2 1207.8,607.5 1200.2,608.2" fill="#23968a"/>
<polygon points="1211.6,598.9 1270.2,593.8 1270.2,601.4 1211.6,607.1" fill="#23968a"/>
<polygon points="1274.0,593.4 1281.0,592.8 1281.0,600.3 1274.0,601.0" fill="#23968a"/>
<polygon points="987.0,600.6 989.5,601.7 989.5,610.5 987.0,609.3" fill="#23968a"/>
<polygon points="993.3,603.4 1014.1,612.8 1014.1,622.6 993.3,612.4" fill="#23968a"/>
<polygon points="1016.5,613.9 1018.6,614.8 1018.6,624.8 1016.5,623.8" fill="#23968a"/>
<path d="M1020.4 610.5L1020.4 629.5M1286.7 588.5L1286.7 602.6M984.3 595.0L984.3 611.2" stroke="#858588" stroke-width="1" fill="none"/>
</g>
<g id="container">
<rect x="1527" y="358" width="1454" height="0" fill="none"/>
<rect x="1527" y="357" width="453" height="232" fill="#fff"/>
<path d="M1526.7 356V576M1528.9 356V576" stroke="#8f9197" stroke-width="0.7" fill="none"/>
<rect x="1523.6" y="378" width="2.6" height="8.5" fill="#7a7a7d"/><rect x="1523.2" y="411" width="2.6" height="8.5" fill="#7a7a7d"/><rect x="1523" y="490" width="2.6" height="8.5" fill="#7a7a7d"/><rect x="1522.8" y="546" width="2.6" height="8.5" fill="#7a7a7d"/>
<path d="M1979.5 360V386h2.4v2.1h-2.4v2.0h2.4v2.1h-2.4v2.0h2.4v2.1h-2.4v2.0h2.4v2.1h-2.4v2.0h2.4v2.1h-2.4v2.0h2.4v2.1h-2.4v2.0h2.4v2.1h-2.4v2.0h2.4v2.1h-2.4v2.0h2.4v2.1h-2.4v2.0h2.4v2.1h-2.4v2.0h2.4v2.1h-2.4v2.0h2.4v2.1h-2.4v2.0h2.4v2.1h-2.4v2.0h2.4v2.1h-2.4v2.0h2.4v2.1h-2.4v2.0h2.4v2.1h-2.4v2.0h2.4v2.1h-2.4v2.0h2.4v2.1h-2.4v2.0h2.4v2.1h-2.4v2.0h2.4v2.1h-2.4v2.0h2.4v2.1h-2.4v2.0h2.4v2.1h-2.4v2.0h2.4v2.1h-2.4v2.0h2.4v2.1h-2.4v2.0h2.4v2.1h-2.4v2.0h2.4v2.1h-2.4v2.0h2.4v2.1h-2.4v2.0h2.4v2.1h-2.4v2.0h2.4v2.1h-2.4v2.0h2.4v2.1h-2.4v2.0h2.4v2.1h-2.4v2.0h2.4v2.1h-2.4v2.0h2.4v2.1h-2.4v2.0h2.4v2.1h-2.4v2.0h2.4v2.1h-2.4v2.0h2.4v2.1h-2.4v2.0h2.4v2.1h-2.4v2.0h2.4v2.1h-2.4v2.0h2.4v2.1h-2.4v2.0h2.4v2.1h-2.4v2.0h2.4v2.1h-2.4v2.0h2.4v2.1h-2.4v2.0h2.4v2.1h-2.4v2.0h2.4v2.1h-2.4v2.0h2.4v2.1h-2.4v2.0" stroke="#8f9197" stroke-width="0.8" fill="#fff"/>
<path d="M1979.4 386V575" stroke="#8f9197" stroke-width="0.7" fill="none"/>
<rect x="1539.3" y="347.2" width="428.5" height="11.6" fill="#00aca0"/>
<rect x="1540.8" y="570.2" width="425" height="17.2" fill="#00aca0"/>
<rect x="1535.2" y="589.6" width="429.5" height="14" fill="#00aca0"/>
<path d="M1535 588.4H1968M1535 604H1964.7" stroke="#8c8686" stroke-width="1.3" fill="none"/>
<path d="M1539.3 358.9H1780" stroke="#8c8686" stroke-width="0.7" fill="none"/>
<path d="M1780.4 359.2H1973.5L1978.4 372V379L1967 386.2L1780.4 386.6Z" fill="#f8f9f9" stroke="#8f9197" stroke-width="0.9"/>
<path d="M1780.4 372H1978M1780.4 378.4H1978M1780.4 381.8H1974M1780.4 384.4H1970" stroke="#c9cbce" stroke-width="1" fill="none"/>
<path d="M1539.2 574.0V361.1H1608.5V574.0" fill="none" stroke="#7a7a7d" stroke-width="3.9" stroke-linejoin="round" stroke-linecap="round"/>
<path d="M1622.5 575.0V361.1H1752.3V575.0" fill="none" stroke="#7a7a7d" stroke-width="3.9" stroke-linejoin="round" stroke-linecap="round"/>
<path d="M1764.2 575.0V391.4H1968.1V575.0" fill="none" stroke="#7a7a7d" stroke-width="3.9" stroke-linejoin="round" stroke-linecap="round"/>
<path d="M1864.6 390V575" stroke="#8b8d93" stroke-width="4.4" stroke-linecap="round" fill="none"/>
<rect x="1592.6" y="357" width="3.6" height="6.4" fill="#fff"/>
<path d="M1590.9 353.6h7M1590.9 358.6h7" stroke="#f0f0f0" stroke-width="1.6"/>
<rect x="1593.2" y="570" width="3.4" height="7" fill="#fff"/>
<path d="M1591.2 577.6h7M1591.2 580.4h7" stroke="#f0f0f0" stroke-width="1.5"/>
<rect x="1734.2" y="357" width="3.6" height="6.4" fill="#fff"/>
<path d="M1732.5 353.6h7M1732.5 358.6h7" stroke="#f0f0f0" stroke-width="1.6"/>
<rect x="1734.8" y="570" width="3.4" height="7" fill="#fff"/>
<path d="M1732.8 577.6h7M1732.8 580.4h7" stroke="#f0f0f0" stroke-width="1.5"/>
<rect x="1848.5" y="389" width="4" height="5" fill="#fff"/>
<rect x="1849" y="570" width="3.3" height="7.6" fill="#fff"/>
<rect x="1847.5" y="384" width="6.5" height="4" fill="#7a7a7d"/>
<rect x="1847.5" y="402.6" width="6.5" height="13.1" fill="#7a7a7d"/>
<rect x="1847.5" y="452.1" width="6.5" height="5" fill="#7a7a7d"/>
<rect x="1847.5" y="550.7" width="6.5" height="13.2" fill="#7a7a7d"/>
<rect x="1847.5" y="578" width="6.5" height="4.5" fill="#7a7a7d"/>
<rect x="1878.0" y="384" width="6.5" height="4" fill="#7a7a7d"/>
<rect x="1878.0" y="402.6" width="6.5" height="13.1" fill="#7a7a7d"/>
<rect x="1878.0" y="452.1" width="6.5" height="5" fill="#7a7a7d"/>
<rect x="1878.0" y="550.7" width="6.5" height="13.2" fill="#7a7a7d"/>
<rect x="1878.0" y="578" width="6.5" height="4.5" fill="#7a7a7d"/>
<path d="M1533.2 377.9h10.5l1.6 1.2v4.4l-1.6 1.2h-10.5z" fill="#f5f5f5" stroke="#8f9197" stroke-width="0.8"/>
<path d="M1533.2 411.2h10.5l1.6 1.2v4.4l-1.6 1.2h-10.5z" fill="#f5f5f5" stroke="#8f9197" stroke-width="0.8"/>
<path d="M1533.2 491.7h10.5l1.6 1.2v4.4l-1.6 1.2h-10.5z" fill="#f5f5f5" stroke="#8f9197" stroke-width="0.8"/>
<path d="M1533.2 548.2h10.5l1.6 1.2v4.4l-1.6 1.2h-10.5z" fill="#f5f5f5" stroke="#8f9197" stroke-width="0.8"/>
<path d="M1616.0 377.6h10.5l1.6 1.2v4.4l-1.6 1.2h-10.5z" fill="#f5f5f5" stroke="#8f9197" stroke-width="0.8"/>
<path d="M1616.0 411.4h10.5l1.6 1.2v4.4l-1.6 1.2h-10.5z" fill="#f5f5f5" stroke="#8f9197" stroke-width="0.8"/>
<path d="M1616.0 451.6h10.5l1.6 1.2v4.4l-1.6 1.2h-10.5z" fill="#f5f5f5" stroke="#8f9197" stroke-width="0.8"/>
<path d="M1616.0 491.7h10.5l1.6 1.2v4.4l-1.6 1.2h-10.5z" fill="#f5f5f5" stroke="#8f9197" stroke-width="0.8"/>
<path d="M1616.0 548.2h10.5l1.6 1.2v4.4l-1.6 1.2h-10.5z" fill="#f5f5f5" stroke="#8f9197" stroke-width="0.8"/>
<path d="M1759.2 404.1h10.5l1.6 1.2v4.4l-1.6 1.2h-10.5z" fill="#f5f5f5" stroke="#8f9197" stroke-width="0.8"/>
<path d="M1759.2 445.0h10.5l1.6 1.2v4.4l-1.6 1.2h-10.5z" fill="#f5f5f5" stroke="#8f9197" stroke-width="0.8"/>
<path d="M1759.2 492.4h10.5l1.6 1.2v4.4l-1.6 1.2h-10.5z" fill="#f5f5f5" stroke="#8f9197" stroke-width="0.8"/>
<path d="M1759.2 549.8h10.5l1.6 1.2v4.4l-1.6 1.2h-10.5z" fill="#f5f5f5" stroke="#8f9197" stroke-width="0.8"/>
<path d="M1971.8 405.1h-9.6l-1.6 1.2v4.4l1.6 1.2h9.6z" fill="#f5f5f5" stroke="#8f9197" stroke-width="0.8"/>
<path d="M1971.8 446.0h-9.6l-1.6 1.2v4.4l1.6 1.2h9.6z" fill="#f5f5f5" stroke="#8f9197" stroke-width="0.8"/>
<path d="M1971.8 493.5h-9.6l-1.6 1.2v4.4l1.6 1.2h9.6z" fill="#f5f5f5" stroke="#8f9197" stroke-width="0.8"/>
<path d="M1971.8 550.3h-9.6l-1.6 1.2v4.4l1.6 1.2h9.6z" fill="#f5f5f5" stroke="#8f9197" stroke-width="0.8"/>
<path d="M1550.5 368H1582L1588.7 370.6V391L1585.5 393.6L1575 390.5H1559.5L1558.8 394.6L1550.5 391L1545.3 383.5Z" fill="#f9fafa" stroke="#8f9197" stroke-width="0.9" stroke-linejoin="round"/>
<path d="M1546 381.4H1578L1582 368M1578 381.4L1588.5 385M1548 386.8H1577.6L1588 390.2" fill="none" stroke="#c9cbce" stroke-width="0.8"/>
<rect x="1628.1" y="365.3" width="93.6" height="36.3" fill="#f4f4f4" stroke="#8f9197" stroke-width="0.9"/>
<path d="M1632.6 403.6H1719.5Q1723 403.6 1723 407.5V439.5H1629.1V407.5Q1629.1 403.6 1632.6 403.6Z" fill="#f5f5f6" stroke="#8f9197" stroke-width="0.9"/>
<defs><pattern id="grid" x="1632.6" y="407.1" width="4.02" height="2.9" patternUnits="userSpaceOnUse"><rect x="0.5" y="0.3" width="2.8" height="2.2" fill="#9b9ea5"/></pattern></defs>
<rect x="1632.6" y="407.1" width="84.2" height="29" fill="url(#grid)"/>
<path d="M1573.6 442.7l8 15.2h-16z" fill="#ffee00" stroke="#77787b" stroke-width="1.1" stroke-linejoin="round"/><path d="M1574.4 447.9l-1.8 3.6h1.8l-1.4 4.2" fill="none" stroke="#6c6c50" stroke-width="0.9"/>
<path d="M1691.7 440.7l8 15.2h-16z" fill="#ffee00" stroke="#77787b" stroke-width="1.1" stroke-linejoin="round"/><path d="M1692.5 445.9l-1.8 3.6h1.8l-1.4 4.2" fill="none" stroke="#6c6c50" stroke-width="0.9"/>
<path d="M1809.4 442.7l8 15.2h-16z" fill="#ffee00" stroke="#77787b" stroke-width="1.1" stroke-linejoin="round"/><path d="M1810.2 447.9l-1.8 3.6h1.8l-1.4 4.2" fill="none" stroke="#6c6c50" stroke-width="0.9"/>
<path d="M1917.1 442.7l8 15.2h-16z" fill="#ffee00" stroke="#77787b" stroke-width="1.1" stroke-linejoin="round"/><path d="M1917.9 447.9l-1.8 3.6h1.8l-1.4 4.2" fill="none" stroke="#6c6c50" stroke-width="0.9"/>
<path d="M1590.2 385.5h8.2M1590.2 393h8.2M1590.2 448.5h8M1589.8 542.5h7.2M1589.8 549.2h7.2M1732.0 385.5h8.2M1732.0 393h8.2M1732.0 448.5h8M1731.6 542.5h7.2M1731.6 549.2h7.2" stroke="#cfd0d3" stroke-width="1.3" fill="none"/>
<path d="M1574.6 467.0h12M1578.4 461.5v11" stroke="#d2d3d5" stroke-width="1.1" fill="none"/><rect x="1587.2" y="464.0" width="4.6" height="6" fill="#d2d3d5"/>
<path d="M1717.4 467.0h12M1721.2 461.5v11" stroke="#d2d3d5" stroke-width="1.1" fill="none"/><rect x="1730.0" y="464.0" width="4.6" height="6" fill="#d2d3d5"/>
<path d="M1831.3 464.2h12M1835.1 458.7v11" stroke="#d2d3d5" stroke-width="1.1" fill="none"/><rect x="1843.9" y="461.2" width="4.6" height="6" fill="#d2d3d5"/>
<path d="M1899.0 464.2h-12M1895.2 458.7v11" stroke="#d2d3d5" stroke-width="1.1" fill="none"/><rect x="1881.8" y="461.2" width="4.6" height="6" fill="#d2d3d5"/>
<rect x="1647.3" y="497" width="77.5" height="56.3" fill="#fff" stroke="#8f9197" stroke-width="0.9"/>
<rect x="1650.3" y="500.3" width="71.5" height="49.5" fill="#fff" stroke="#8f9197" stroke-width="0.9"/>
<rect x="1653.8" y="504.3" width="64.6" height="3.3" rx="0.8" fill="#fff" stroke="#8f9197" stroke-width="0.8"/>
<path d="M1654.2 510.4h63.8M1654.2 514.9h63.8M1654.2 519.4h63.8M1654.2 523.9h63.8M1654.2 528.4h63.8M1654.2 532.8h63.8M1654.2 537.3h63.8M1654.2 541.8h63.8" stroke="#b3b6bb" stroke-width="2.1" stroke-linecap="round" fill="none"/>
<path d="M1784.9 471.6H1844.2L1845.0 553.3Q1844.8 556.3 1842.2 556.3H1788.4Q1786.1 556.3 1786.1 553.3Z" fill="#fff" stroke="#8f9197" stroke-width="0.9"/><path d="M1785.2 480.2H1844.8M1785.9 480.5q0.3 2.6 3 2.6H1841.6q2.6 0 2.8 -2.6M1785.2 488.3H1844.8M1785.9 488.6q0.3 2.6 3 2.6H1841.6q2.6 0 2.8 -2.6M1785.2 496.3H1844.8M1785.9 496.6q0.3 2.6 3 2.6H1841.6q2.6 0 2.8 -2.6M1785.2 504.3H1844.8M1785.9 504.6q0.3 2.6 3 2.6H1841.6q2.6 0 2.8 -2.6M1785.2 512.3H1844.8M1785.9 512.6q0.3 2.6 3 2.6H1841.6q2.6 0 2.8 -2.6M1785.2 520.4H1844.8M1785.9 520.7q0.3 2.6 3 2.6H1841.6q2.6 0 2.8 -2.6M1785.2 528.4H1844.8M1785.9 528.7q0.3 2.6 3 2.6H1841.6q2.6 0 2.8 -2.6M1785.2 536.4H1844.8M1785.9 536.7q0.3 2.6 3 2.6H1841.6q2.6 0 2.8 -2.6M1785.2 544.5H1844.8M1785.9 544.8q0.3 2.6 3 2.6H1841.6q2.6 0 2.8 -2.6M1785.2 552.5H1844.8M1785.9 552.8q0.3 2.6 3 2.6H1841.6q2.6 0 2.8 -2.6" stroke="#8f9197" stroke-width="0.8" fill="none"/>
<path d="M1888.9 473.2H1947.2L1948.0 554.8Q1947.8 557.8 1945.2 557.8H1892.4Q1890.1 557.8 1890.1 554.8Z" fill="#fff" stroke="#8f9197" stroke-width="0.9"/><path d="M1889.2 481.8H1947.8M1889.9 482.1q0.3 2.6 3 2.6H1944.6q2.6 0 2.8 -2.6M1889.2 489.8H1947.8M1889.9 490.1q0.3 2.6 3 2.6H1944.6q2.6 0 2.8 -2.6M1889.2 497.9H1947.8M1889.9 498.2q0.3 2.6 3 2.6H1944.6q2.6 0 2.8 -2.6M1889.2 505.9H1947.8M1889.9 506.2q0.3 2.6 3 2.6H1944.6q2.6 0 2.8 -2.6M1889.2 513.9H1947.8M1889.9 514.2q0.3 2.6 3 2.6H1944.6q2.6 0 2.8 -2.6M1889.2 521.9H1947.8M1889.9 522.2q0.3 2.6 3 2.6H1944.6q2.6 0 2.8 -2.6M1889.2 529.9H1947.8M1889.9 530.2q0.3 2.6 3 2.6H1944.6q2.6 0 2.8 -2.6M1889.2 538.0H1947.8M1889.9 538.3q0.3 2.6 3 2.6H1944.6q2.6 0 2.8 -2.6M1889.2 546.0H1947.8M1889.9 546.3q0.3 2.6 3 2.6H1944.6q2.6 0 2.8 -2.6M1889.2 554.0H1947.8M1889.9 554.3q0.3 2.6 3 2.6H1944.6q2.6 0 2.8 -2.6" stroke="#8f9197" stroke-width="0.8" fill="none"/>
<rect x="1521.1" y="344.3" width="17.6" height="12.4" rx="2.2" fill="#fff" stroke="#8f9197" stroke-width="0.9"/><ellipse cx="1529.0" cy="350.5" rx="2.1" ry="3.3" fill="none" stroke="#8f9197" stroke-width="0.8"/>
<rect x="1967.8" y="346.2" width="16.8" height="12.8" rx="2.2" fill="#fff" stroke="#8f9197" stroke-width="0.9"/><ellipse cx="1975.4" cy="352.6" rx="2.1" ry="3.3" fill="none" stroke="#8f9197" stroke-width="0.8"/>
<rect x="1519.6" y="575.8" width="15.2" height="11.8" rx="2.2" fill="#fff" stroke="#8f9197" stroke-width="0.9"/><ellipse cx="1526.4" cy="581.7" rx="2.1" ry="3.3" fill="none" stroke="#8f9197" stroke-width="0.8"/>
<rect x="1968.0" y="579.2" width="16.8" height="11.4" rx="2.2" fill="#fff" stroke="#8f9197" stroke-width="0.9"/><ellipse cx="1975.6" cy="584.9" rx="2.1" ry="3.3" fill="none" stroke="#8f9197" stroke-width="0.8"/>
</g>
<g id="tower">
<path d="M2372.9 328.8L2360.3 536.4L2340.1 620.0M2392.2 328.8L2404.9 536.4L2423.3 620.0M2372.9 328.8L2393.4 348.2M2392.2 328.8L2371.7 348.2M2371.7 348.2L2394.1 359.2M2393.4 348.2L2371.1 359.2M2371.1 359.2L2395.3 379.1M2394.1 359.2L2369.8 379.1M2369.8 379.1L2396.5 399.5M2395.3 379.1L2368.6 399.5M2368.6 399.5L2397.8 420.0M2396.5 399.5L2367.4 420.0M2367.4 420.0L2399.0 440.5M2397.8 420.0L2366.1 440.5M2366.1 440.5L2400.3 462.0M2399.0 440.5L2364.8 462.0M2364.8 462.0L2401.6 483.0M2400.3 462.0L2363.5 483.0M2363.5 483.0L2403.0 505.8M2401.6 483.0L2362.2 505.8M2362.2 505.8L2404.9 536.4M2403.0 505.8L2360.3 536.4M2360.3 536.4L2423.3 619.6M2404.9 536.4L2340.1 619.6M2371.7 348.2H2393.4M2371.2 357.2H2393.9M2371.0 359.6H2394.1M2367.4 420.0H2397.8M2363.5 483.0H2401.6M2329.8 328.8H2435.9M2330.8 329.8L2371.7 348.2M2434.9 329.8L2393.4 348.2M2331.4 379.1H2435.3M2332.4 378.6L2371.1 359.2M2434.3 378.6L2394.1 359.2M2325.3 440.5H2442.0M2326.3 440.0L2367.4 420.0M2441.0 440.0L2397.8 420.0M2318.1 505.8H2448.5M2319.1 505.3L2363.5 483.0M2447.5 505.3L2401.6 483.0" fill="none" stroke="#808285" stroke-width="1.8" stroke-linecap="round" stroke-linejoin="round"/>
<path d="M2331.4 328.8v4" stroke="#808285" stroke-width="2.4" fill="none"/><rect x="2328.1" y="332.4" width="6.6" height="2.8" rx="1.2" fill="#808285"/><rect x="2328.7" y="335.4" width="5.4" height="8.4" fill="#2cb5a8"/><path d="M2330.5 335.4v8.4M2332.4 335.4v8.4" stroke="#8fd6cf" stroke-width="0.8" fill="none"/><rect x="2328.0" y="343.8" width="6.8" height="3.2" rx="1.3" fill="#808285"/>
<path d="M2434.5 328.8v4" stroke="#808285" stroke-width="2.4" fill="none"/><rect x="2431.2" y="332.4" width="6.6" height="2.8" rx="1.2" fill="#808285"/><rect x="2431.8" y="335.4" width="5.4" height="8.4" fill="#2cb5a8"/><path d="M2433.6 335.4v8.4M2435.5 335.4v8.4" stroke="#8fd6cf" stroke-width="0.8" fill="none"/><rect x="2431.1" y="343.8" width="6.8" height="3.2" rx="1.3" fill="#808285"/>
<path d="M2333.0 379.1v4" stroke="#808285" stroke-width="2.4" fill="none"/><rect x="2329.7" y="382.7" width="6.6" height="2.8" rx="1.2" fill="#808285"/><rect x="2330.3" y="385.7" width="5.4" height="8.4" fill="#2cb5a8"/><path d="M2332.1 385.7v8.4M2334.0 385.7v8.4" stroke="#8fd6cf" stroke-width="0.8" fill="none"/><rect x="2329.6" y="394.1" width="6.8" height="3.2" rx="1.3" fill="#808285"/>
<path d="M2433.9 379.1v4" stroke="#808285" stroke-width="2.4" fill="none"/><rect x="2430.6" y="382.7" width="6.6" height="2.8" rx="1.2" fill="#808285"/><rect x="2431.2" y="385.7" width="5.4" height="8.4" fill="#2cb5a8"/><path d="M2433.0 385.7v8.4M2434.9 385.7v8.4" stroke="#8fd6cf" stroke-width="0.8" fill="none"/><rect x="2430.5" y="394.1" width="6.8" height="3.2" rx="1.3" fill="#808285"/>
<path d="M2326.9 440.5v4" stroke="#808285" stroke-width="2.4" fill="none"/><rect x="2323.6" y="444.1" width="6.6" height="2.8" rx="1.2" fill="#808285"/><rect x="2324.2" y="447.1" width="5.4" height="8.4" fill="#2cb5a8"/><path d="M2326.0 447.1v8.4M2327.9 447.1v8.4" stroke="#8fd6cf" stroke-width="0.8" fill="none"/><rect x="2323.5" y="455.5" width="6.8" height="3.2" rx="1.3" fill="#808285"/>
<path d="M2440.6 440.5v4" stroke="#808285" stroke-width="2.4" fill="none"/><rect x="2437.3" y="444.1" width="6.6" height="2.8" rx="1.2" fill="#808285"/><rect x="2437.9" y="447.1" width="5.4" height="8.4" fill="#2cb5a8"/><path d="M2439.7 447.1v8.4M2441.6 447.1v8.4" stroke="#8fd6cf" stroke-width="0.8" fill="none"/><rect x="2437.2" y="455.5" width="6.8" height="3.2" rx="1.3" fill="#808285"/>
<path d="M2319.7 505.8v4" stroke="#808285" stroke-width="2.4" fill="none"/><rect x="2316.4" y="509.4" width="6.6" height="2.8" rx="1.2" fill="#808285"/><rect x="2317.0" y="512.4" width="5.4" height="8.4" fill="#2cb5a8"/><path d="M2318.8 512.4v8.4M2320.7 512.4v8.4" stroke="#8fd6cf" stroke-width="0.8" fill="none"/><rect x="2316.3" y="520.8" width="6.8" height="3.2" rx="1.3" fill="#808285"/>
<path d="M2447.1 505.8v4" stroke="#808285" stroke-width="2.4" fill="none"/><rect x="2443.8" y="509.4" width="6.6" height="2.8" rx="1.2" fill="#808285"/><rect x="2444.4" y="512.4" width="5.4" height="8.4" fill="#2cb5a8"/><path d="M2446.2 512.4v8.4M2448.1 512.4v8.4" stroke="#8fd6cf" stroke-width="0.8" fill="none"/><rect x="2443.7" y="520.8" width="6.8" height="3.2" rx="1.3" fill="#808285"/>
<path d="M2290 621.7H2471" stroke="#808285" stroke-width="5" fill="none"/>
</g>
<g id="p_mccb" transform="translate(600,765) scale(0.10023)">
<path d="M140 105L332 72V1400L140 1332Z" fill="#2a2a2c"/>
<path d="M332 72L1132 95V420L1160 428V1108L1140 1115V1345L332 1400Z" fill="#474c56"/>
<path d="M332 72L1132 95V300L332 290Z" fill="#50555f"/>
<path d="M332 1130L1140 1118V1345L332 1400Z" fill="#4e535d"/>
<path d="M332 420H1160V500H332Z" fill="#3f444d"/>
<g fill="#1e1f22"><path d="M415 105H590V185H415Z"/><path d="M665 100H840V190H665Z"/><path d="M920 100H1128V190H920Z"/>
<path d="M415 1240Q415 1220 440 1220H535Q560 1220 560 1240V1385L415 1392Z"/><path d="M668 1240Q668 1220 690 1220H785Q810 1220 810 1240V1368L668 1378Z"/><path d="M920 1240Q920 1220 945 1220H1040Q1062 1220 1062 1240V1350L920 1360Z"/>
<rect x="585" y="95" width="40" height="130" rx="15"/><rect x="840" y="95" width="40" height="130" rx="15"/><rect x="590" y="1210" width="40" height="150" rx="15"/><rect x="845" y="1210" width="40" height="150" rx="15"/></g>
<g fill="#6a6f78" opacity="0.55"><path d="M430 120H575V170H430Z"/><path d="M680 120H825V175H680Z"/><path d="M935 120H1115V175H935Z"/></g>
<path d="M350 508H1150V548H350Z" fill="#e9a11f"/>
<path d="M360 548L385 508H405L380 548ZM405 548L430 508H450L425 548ZM450 548L475 508H495L470 548ZM495 548L520 508H538L515 548Z" fill="#3a3325"/>
<rect x="995" y="516" width="110" height="22" fill="#b98214" opacity="0.6"/>
<rect x="400" y="600" width="212" height="262" rx="8" fill="#5b626b"/>
<rect x="895" y="600" width="212" height="262" rx="8" fill="#5b626b"/>
<g fill="#8b939c" opacity="0.8"><rect x="415" y="618" width="190" height="14"/><rect x="415" y="705" width="70" height="10"/><rect x="415" y="740" width="95" height="10"/><rect x="415" y="790" width="30" height="10"/><rect x="555" y="785" width="40" height="12"/><rect x="415" y="828" width="40" height="10"/><rect x="415" y="850" width="110" height="10"/>
<rect x="905" y="620" width="190" height="14"/><rect x="910" y="668" width="105" height="10"/><rect x="910" y="708" width="150" height="10"/><rect x="910" y="745" width="80" height="10"/><rect x="920" y="785" width="95" height="10"/><rect x="910" y="828" width="50" height="10"/><rect x="910" y="850" width="185" height="12"/></g>
<rect x="425" y="658" width="68" height="30" rx="12" fill="#e6e8ea"/><rect x="1060" y="664" width="36" height="18" rx="4" fill="#e6e8ea"/><rect x="1060" y="738" width="36" height="22" rx="4" fill="#d5d8db"/>
<rect x="675" y="592" width="185" height="395" rx="14" fill="#3b3f47" stroke="#2e3138" stroke-width="6"/>
<rect x="715" y="610" width="105" height="325" fill="#17181a"/>
<rect x="715" y="892" width="88" height="36" fill="#c8252b"/>
<path d="M760 592H838L846 640L812 745H722L716 655Z" fill="#ea8a22"/>
<path d="M760 592H838L836 640H755Z" fill="#f4a64a"/>
<rect x="565" y="910" width="42" height="42" rx="5" fill="#d42a2f"/>
<g fill="#1d1e21"><circle cx="360" cy="468" r="17"/><circle cx="625" cy="468" r="17"/><circle cx="885" cy="468" r="17"/><circle cx="365" cy="1068" r="17"/><circle cx="625" cy="1068" r="17"/><circle cx="900" cy="1068" r="17"/><circle cx="350" cy="245" r="16"/><circle cx="1095" cy="262" r="14"/><circle cx="350" cy="1180" r="16"/><circle cx="355" cy="90" r="12"/></g>
<g fill="#aeb2b8"><circle cx="363" cy="466" r="6"/><circle cx="628" cy="466" r="6"/><circle cx="888" cy="466" r="6"/><circle cx="368" cy="1066" r="6"/><circle cx="628" cy="1066" r="6"/><circle cx="903" cy="1066" r="6"/></g>
</g>
<g id="p_contactor" transform="translate(585,1005) scale(0.11057)">
<path d="M110 1080L285 1012L300 1130L440 1180L1215 1000L1250 960L1330 1040V1125L300 1385L250 1335V1215L110 1165Z" fill="#38383b"/>
<path d="M110 1080L285 1012L300 1100L255 1215L250 1335L110 1165Z" fill="#2f2f32"/>
<path d="M250 1215L440 1130L1330 1040V1125L300 1385L250 1335Z" fill="#3c3c40"/>
<path d="M240 1040L445 1120L1230 975L1330 1040L440 1230L250 1215Z" fill="#39393c"/>
<path d="M240 345L445 500V1140L300 1130L240 1060Z" fill="#353538"/>
<path d="M445 500L1210 385L1230 985L445 1140Z" fill="#3f3f43"/>
<path d="M240 345L880 225L1210 385L445 500Z" fill="#47474b"/>
<ellipse cx="548" cy="385" rx="128" ry="52" fill="#2a2a2c"/>
<ellipse cx="935" cy="318" rx="92" ry="45" fill="#2a2a2c"/>
<ellipse cx="930" cy="300" rx="78" ry="46" fill="#e7906a"/><ellipse cx="925" cy="295" rx="48" ry="26" fill="#f3b493"/><ellipse cx="915" cy="295" rx="18" ry="10" fill="#e0683c"/>
<ellipse cx="545" cy="365" rx="115" ry="55" fill="#e9a183"/><ellipse cx="545" cy="360" rx="85" ry="36" fill="#f6c9b0"/><ellipse cx="540" cy="360" rx="32" ry="14" fill="#e07a50"/>
<path d="M590 112L640 85L852 232V445L800 425L560 262Z" fill="#323235"/>
<path d="M590 112L640 85L852 232L810 255Z" fill="#3d3d41"/>
<path d="M560 262L800 425L852 445" fill="none" stroke="#232325" stroke-width="12"/>
<path d="M820 500L890 490V575L820 585Z" fill="#6b6b6f"/>
<path d="M660 800L1040 730V1020L660 1090Z" fill="#f3f3f3" stroke="#55555a" stroke-width="6"/>
<g stroke="#7d7d82" stroke-width="9" fill="none"><path d="M690 850L1010 792"/><path d="M700 895L840 870M880 862L1000 842"/><path d="M700 935L850 908M880 902L1000 882"/><path d="M700 975L800 957M830 951L1010 920"/><path d="M780 1000L900 980"/></g>
<path d="M770 785L940 755L925 790L785 815Z" fill="#4c4c50"/>
<path d="M690 1045L1020 985" stroke="#4c4c50" stroke-width="16" fill="none"/>
<ellipse cx="365" cy="1228" rx="36" ry="24" fill="#8c99a0"/><ellipse cx="365" cy="1226" rx="18" ry="12" fill="#c3ced3"/>
<ellipse cx="1238" cy="1050" rx="30" ry="20" fill="#8c99a0"/><ellipse cx="1238" cy="1048" rx="14" ry="9" fill="#c3ced3"/>
<rect x="570" y="1245" width="55" height="30" rx="6" fill="#2a2a2c" transform="rotate(-12 597 1260)"/>
<rect x="1065" y="1145" width="55" height="30" rx="6" fill="#2a2a2c" transform="rotate(-12 1092 1160)"/>
</g>
<g id="p_fuse" transform="translate(580,1275) scale(0.1244)">
<path d="M490 1150H570V1400H490ZM645 1150H720V1395H645Z" fill="#cbc8c2" stroke="#a09d97" stroke-width="7"/>
<path d="M290 340L395 495V1170L330 1110Z" fill="#e2e2e2"/>
<path d="M395 1160L945 1125V1150L915 1165L400 1200Z" fill="#c2bfb8"/>
<path d="M395 495L945 430V1135L395 1170Z" fill="#f3f3f3" stroke="#cfcfcf" stroke-width="6"/>
<path d="M395 495L945 430V520L395 590Z" fill="#fafafa"/>
<path d="M860 440L945 430V1135L860 1142Z" fill="#e6e6e6" opacity="0.7"/>
<path d="M200 372L330 312L790 290L945 425L395 492L290 382Z" fill="#d6d2ca" stroke="#a39f98" stroke-width="8" stroke-linejoin="round"/>
<path d="M395 492L945 425V448L395 515Z" fill="#c5c1ba"/>
<path d="M465 85H720V158H600Q548 160 548 225Q548 290 600 292H720V470L465 478Z" fill="#c6c3bd" stroke="#9f9c96" stroke-width="7" stroke-linejoin="round"/>
<path d="M465 400L720 385V470L465 478Z" fill="#b5b2ac" opacity="0.6"/>
<g fill="#b3b6b6" stroke="#7f8282" stroke-width="6"><ellipse cx="330" cy="335" rx="28" ry="18"/><ellipse cx="740" cy="305" rx="26" ry="17"/><ellipse cx="445" cy="450" rx="28" ry="18"/><ellipse cx="880" cy="415" rx="28" ry="18"/><ellipse cx="590" cy="365" rx="24" ry="16"/><ellipse cx="625" cy="405" rx="26" ry="17"/></g>
<path d="M130 405L200 372L290 382L325 560L360 880L385 1130L335 1190L250 1212L215 1080L160 880L130 560Z" fill="#ececec" stroke="#b9b9b9" stroke-width="8" stroke-linejoin="round"/>
<path d="M200 372L290 382L325 560L360 880L385 1130L335 1190L300 900L270 620L235 440Z" fill="#f9f9f9" stroke="#c2c2c2" stroke-width="6"/>
<path d="M290 382Q340 700 385 1130" fill="none" stroke="#9a9a9a" stroke-width="7"/>
<path d="M235 610L330 585M245 700L340 670M255 790L345 775M262 880L358 860" stroke="#cfcfcf" stroke-width="6" fill="none"/>
<circle cx="205" cy="780" r="26" fill="#d8423f"/>
<g fill="#7f97a8"><rect x="100" y="445" width="50" height="60" rx="10" transform="rotate(-15 125 475)"/><rect x="205" y="1050" width="50" height="70" rx="10" transform="rotate(-15 230 1085)"/></g>
<path d="M575 630H822L790 692H545Z" fill="#1d1d1d"/>
<text x="683" y="682" font-family="'Liberation Sans',sans-serif" font-weight="700" font-size="56" fill="#fff" text-anchor="middle" textLength="200" lengthAdjust="spacingAndGlyphs">TENGEN</text>
<text x="683" y="722" font-family="'Liberation Sans',sans-serif" font-weight="700" font-size="30" fill="#222" text-anchor="middle">TGRS3Z-3EQ</text>
<rect x="553" y="735" width="265" height="32" fill="none" stroke="#333" stroke-width="5"/>
<path d="M570 751H800" stroke="#666" stroke-width="10" stroke-dasharray="40 8"/>
<rect x="555" y="778" width="92" height="85" rx="6" fill="#1d1d1d"/>
<path d="M575 800H625V840H575M590 820H625" stroke="#fff" stroke-width="9" fill="none"/>
<rect x="665" y="785" width="150" height="85" fill="#1d1d1d"/>
<text x="740" y="835" font-family="'Liberation Sans',sans-serif" font-size="50" fill="#fff" text-anchor="middle">400A</text>
<text x="740" y="866" font-family="'Liberation Sans',sans-serif" font-size="28" fill="#ddd" text-anchor="middle">aR</text>
<path d="M553 880H818" stroke="#777" stroke-width="5" stroke-dasharray="10 8"/>
<rect x="555" y="900" width="86" height="86" fill="#333"/>
<path d="M565 915h20v20h-20zM610 912h22v22h-22zM568 958h20v20h-20zM595 940h14v14h-14zM615 960h16v16h-16z" fill="#fff"/>
<path d="M690 930H760M700 972H815M553 1005H818" stroke="#555" stroke-width="9" fill="none"/>
<ellipse cx="795" cy="927" rx="22" ry="13" fill="none" stroke="#444" stroke-width="5"/>
</g>
<defs><g id="acb">
<path d="M150 135L1235 62L1500 150V335L375 380V215Z" fill="#8d9194"/>
<path d="M150 135L1235 62L1440 95L375 215Z" fill="#989c9f"/>
<path d="M1430 92L1500 150V335L1430 300Z" fill="#77797c"/><ellipse cx="1478" cy="215" rx="17" ry="40" fill="#f4f4f4"/>
<path d="M710 190L1340 165V310L760 368L710 340Z" fill="#66686c"/>
<g stroke="#9a9da1" stroke-width="4" fill="none" opacity="0.9"><path d="M712 215L1340 190M712 240L1340 214M712 265L1340 238M712 290L1340 262M714 315L1340 286M730 340L1340 308"/><path d="M760 190V366M810 188V362M860 186V357M910 184V352M960 182V347M1010 180V342M1060 178V337M1110 176V332M1160 174V327M1210 172V322M1260 170V317M1305 168V313"/></g>
<path d="M150 135L375 215V1425L300 1432L150 1225Z" fill="#68696c"/>
<path d="M120 1228L150 1216L375 1420L332 1432Z" fill="#7c7d80"/>
<path d="M180 235L292 270V472L180 412Z" fill="#2b2b2d"/><path d="M205 300L292 330V472L205 425Z" fill="#3a3a3d"/>
<g fill="#9a9b9e"><circle cx="175" cy="580" r="12"/><circle cx="170" cy="925" r="12"/><circle cx="235" cy="965" r="12"/><circle cx="295" cy="1030" r="12"/><circle cx="240" cy="1180" r="16"/><circle cx="295" cy="1225" r="14"/><circle cx="325" cy="300" r="9"/><circle cx="210" cy="185" r="8"/></g>
<circle cx="262" cy="1112" r="10" fill="#c9842a"/>
<path d="M375 362L650 350V1332L420 1372L375 1340Z" fill="#3b3c3f"/>
<path d="M375 700H420V1372L375 1340Z" fill="#141415"/><path d="M375 980H420" stroke="#3b3c3f" stroke-width="50"/>
<path d="M650 350L770 340V1385L650 1332Z" fill="#2b2c2e"/>
<path d="M690 365L1530 322V1262L1500 1292L770 1388L700 1335Z" fill="#3a3b3e"/>
<path d="M690 365L1530 322V400L770 420L690 400Z" fill="#333437"/>
<path d="M770 420V1385M1000 405V1355" stroke="#2a2b2d" stroke-width="9" fill="none"/>
<path d="M1000 690H1530M1000 1040H1530" stroke="#303134" stroke-width="7" fill="none"/>
<path d="M680 530L760 560V590L680 560Z" fill="#1c1c1d"/>
<rect x="470" y="600" width="75" height="65" fill="#434447"/>
<rect x="1012" y="715" width="268" height="160" rx="10" fill="#2b2c2e"/>
<rect x="1045" y="770" width="88" height="90" rx="8" fill="#d8304e"/><circle cx="1089" cy="805" r="18" fill="none" stroke="#f4b6c2" stroke-width="6"/>
<rect x="1185" y="760" width="86" height="88" rx="8" fill="#2fb36b"/><path d="M1228 785V815" stroke="#bfeed3" stroke-width="7"/>
<rect x="1035" y="922" width="82" height="34" rx="4" fill="#7e2b2d"/><path d="M1045 940H1105" stroke="#e2595b" stroke-width="10"/>
<rect x="1180" y="908" width="72" height="34" rx="4" fill="#d9d9d9"/><path d="M1195 925H1240" stroke="#555" stroke-width="12"/>
<rect x="1125" y="955" width="50" height="30" rx="5" fill="#232425"/>
<rect x="1378" y="925" width="60" height="45" rx="5" fill="#2a2b2d"/><path d="M1390 940h18M1395 962l30 -14" stroke="#c9c9c9" stroke-width="6"/><path d="M1395 962l30 -14" stroke="#c0392b" stroke-width="5"/>
<rect x="1272" y="508" width="86" height="755" rx="26" fill="#101011"/>
<path d="M1290 608L1342 600L1338 900L1318 1092H1282Z" fill="#e07a22"/><path d="M1290 608L1308 605L1302 1092H1282Z" fill="#c4661a"/>
<path d="M1008 1100L1268 1075" stroke="#e0a820" stroke-width="11" stroke-dasharray="18 10" fill="none"/>
<g stroke="#b98a1e" stroke-width="6" fill="none" opacity="0.9"><path d="M1010 1130H1150M1010 1160H1140M1010 1190H1160M1010 1220H1130M1180 1150H1240M1180 1180H1250M1180 1210H1230"/></g>
<path d="M1008 1265L1262 1232" stroke="#e0a820" stroke-width="8" fill="none"/>
<rect x="1180" y="1105" width="60" height="40" fill="#d8d8d8" opacity="0.8"/>
<g fill="#0e0e0f"><circle cx="775" cy="1350" r="14"/><circle cx="1480" cy="1262" r="13"/><circle cx="455" cy="1335" r="13"/><circle cx="645" cy="1308" r="12"/><circle cx="418" cy="558" r="13"/><circle cx="688" cy="542" r="12"/></g>
<g fill="#b8b8ba"><circle cx="420" cy="556" r="5"/><circle cx="457" cy="1333" r="5"/><circle cx="647" cy="1306" r="5"/><circle cx="690" cy="540" r="5"/></g>
</g>
</defs>
<use href="#acb" transform="translate(1150,745) scale(0.10018)"/>
<use href="#acb" transform="translate(1627.3,803.8) scale(0.10018)"/>
<defs><g id="cyl">
<defs><linearGradient id="cb" x1="0" x2="1" y1="0" y2="0"><stop offset="0" stop-color="#cfcfcf"/><stop offset="0.12" stop-color="#e4e4e4"/><stop offset="0.35" stop-color="#f5f5f5"/><stop offset="0.8" stop-color="#f0f0f0"/><stop offset="1" stop-color="#dadada"/></linearGradient><linearGradient id="cr" x1="0" x2="1" y1="0" y2="0"><stop offset="0" stop-color="#b4b4b4"/><stop offset="0.3" stop-color="#f4f4f4"/><stop offset="0.55" stop-color="#c9c9c9"/><stop offset="0.8" stop-color="#efefef"/><stop offset="1" stop-color="#b9b9b9"/></linearGradient></defs>
<path d="M300 1215Q700 1345 1335 1185V1222Q700 1385 300 1268Z" fill="url(#cr)"/>
<path d="M195 290L300 1235Q700 1335 1335 1195L1342 260Z" fill="url(#cb)"/>
<path d="M165 235V280Q190 375 420 415Q700 460 1080 405Q1330 360 1342 285V240Z" fill="url(#cr)"/>
<path d="M165 235Q150 150 420 85Q750 30 1090 75Q1345 120 1342 240Q1330 315 1080 360Q700 415 420 370Q190 330 165 235Z" fill="#dcdcda" stroke="#c3c3c3" stroke-width="5"/>
<ellipse cx="745" cy="202" rx="292" ry="95" fill="#bdbdbd"/>
<ellipse cx="745" cy="185" rx="285" ry="85" fill="#ebebe9" stroke="#f8f8f8" stroke-width="6"/>
<g fill="#fbfbfb"><ellipse cx="530" cy="150" rx="35" ry="14"/><ellipse cx="790" cy="122" rx="35" ry="13"/><ellipse cx="735" cy="165" rx="32" ry="13"/><ellipse cx="940" cy="180" rx="35" ry="13"/><ellipse cx="670" cy="212" rx="35" ry="13"/></g>
<ellipse cx="405" cy="117" rx="31" ry="21" fill="#8f8a76"/><ellipse cx="405" cy="110" rx="21" ry="13" fill="#d2cebc"/><ellipse cx="640" cy="97" rx="31" ry="21" fill="#8f8a76"/><ellipse cx="640" cy="90" rx="21" ry="13" fill="#d2cebc"/><ellipse cx="880" cy="93" rx="31" ry="21" fill="#8f8a76"/><ellipse cx="880" cy="86" rx="21" ry="13" fill="#d2cebc"/><ellipse cx="1085" cy="127" rx="31" ry="21" fill="#8f8a76"/><ellipse cx="1085" cy="120" rx="21" ry="13" fill="#d2cebc"/><ellipse cx="1215" cy="175" rx="31" ry="21" fill="#8f8a76"/><ellipse cx="1215" cy="168" rx="21" ry="13" fill="#d2cebc"/><ellipse cx="1240" cy="237" rx="31" ry="21" fill="#8f8a76"/><ellipse cx="1240" cy="230" rx="21" ry="13" fill="#d2cebc"/><ellipse cx="1090" cy="280" rx="31" ry="21" fill="#8f8a76"/><ellipse cx="1090" cy="273" rx="21" ry="13" fill="#d2cebc"/><ellipse cx="850" cy="310" rx="31" ry="21" fill="#8f8a76"/><ellipse cx="850" cy="303" rx="21" ry="13" fill="#d2cebc"/><ellipse cx="580" cy="315" rx="31" ry="21" fill="#8f8a76"/><ellipse cx="580" cy="308" rx="21" ry="13" fill="#d2cebc"/><ellipse cx="365" cy="270" rx="31" ry="21" fill="#8f8a76"/><ellipse cx="365" cy="263" rx="21" ry="13" fill="#d2cebc"/><ellipse cx="245" cy="220" rx="31" ry="21" fill="#8f8a76"/><ellipse cx="245" cy="213" rx="21" ry="13" fill="#d2cebc"/><ellipse cx="245" cy="165" rx="31" ry="21" fill="#8f8a76"/><ellipse cx="245" cy="158" rx="21" ry="13" fill="#d2cebc"/><ellipse cx="430" cy="170" rx="31" ry="21" fill="#8f8a76"/><ellipse cx="430" cy="163" rx="21" ry="13" fill="#d2cebc"/><ellipse cx="450" cy="230" rx="31" ry="21" fill="#8f8a76"/><ellipse cx="450" cy="223" rx="21" ry="13" fill="#d2cebc"/><ellipse cx="1040" cy="200" rx="31" ry="21" fill="#8f8a76"/><ellipse cx="1040" cy="193" rx="21" ry="13" fill="#d2cebc"/><ellipse cx="890" cy="255" rx="31" ry="21" fill="#8f8a76"/><ellipse cx="890" cy="248" rx="21" ry="13" fill="#d2cebc"/><ellipse cx="640" cy="260" rx="31" ry="21" fill="#8f8a76"/><ellipse cx="640" cy="253" rx="21" ry="13" fill="#d2cebc"/>
<path d="M100 305L180 242L240 330L275 700L300 1240L245 1272L180 1180L130 700Z" fill="#e6e6e6" stroke="#bdbdbd" stroke-width="7" stroke-linejoin="round"/>
<path d="M180 242L240 330L275 700L300 1240L245 1272L215 700Z" fill="#f8f8f8" stroke="#c6c6c6" stroke-width="6"/>
<path d="M240 330Q280 760 300 1240" fill="none" stroke="#8f8f8f" stroke-width="8"/>
<path d="M208 640L272 632V880L222 890Z" fill="#ffffff" stroke="#c9c9c9" stroke-width="5"/>
<path d="M210 720H272M215 800H276" stroke="#c4c4c4" stroke-width="6"/>
<circle cx="165" cy="765" r="23" fill="#d8423f"/>
<g fill="#8f8a78"><ellipse cx="115" cy="318" rx="18" ry="14"/><ellipse cx="195" cy="1215" rx="18" ry="14"/><ellipse cx="270" cy="1262" rx="16" ry="12"/></g>
<path d="M880 660H1070L1045 700H905Z" fill="#2a2a2a"/>
<text x="975" y="692" font-family="'Liberation Sans',sans-serif" font-weight="700" font-size="34" fill="#fff" text-anchor="middle" textLength="120" lengthAdjust="spacingAndGlyphs">TENGEN</text>
<path d="M890 722H1060M890 748H1060" stroke="#999" stroke-width="7"/>
<rect x="890" y="770" width="62" height="62" fill="#2a2a2a"/><path d="M903 788H940V815H903" stroke="#fff" stroke-width="7" fill="none"/>
<rect x="965" y="770" width="97" height="62" fill="#2a2a2a"/><path d="M980 795H1048" stroke="#bbb" stroke-width="9"/>
<rect x="890" y="858" width="62" height="62" fill="#444"/><path d="M898 868h14v14h-14zM930 866h14v14h-14zM900 900h14v14h-14zM918 884h10v10h-10z" fill="#fff"/>
<path d="M975 905H1055M890 940H1062" stroke="#777" stroke-width="8"/>
</g></defs>
<use href="#cyl" transform="translate(1175,1005) scale(0.0933)"/>
<use href="#cyl" transform="translate(1639,1099) scale(0.0918)"/>
<g id="p_spd" transform="translate(1645,1350) scale(0.11402)" font-family="'Liberation Sans',sans-serif">
<path d="M180 85H280V130H180Z" fill="#bdbdbd"/>
<path d="M130 165L325 112V1405L240 1360V1120L130 1060Z" fill="#c2c2c2"/>
<path d="M130 165L325 112V470L215 440L130 470Z" fill="#cbcbcb"/>
<path d="M175 470L330 500V930L175 880Z" fill="#b3b3b3"/>
<path d="M325 112L920 92L945 130V470H325Z" fill="#e3e3e3"/>
<path d="M325 112L920 92L945 130L340 150Z" fill="#eeeeee"/>
<path d="M535 140V470M735 132V470" stroke="#bdbdbd" stroke-width="9"/>
<path d="M435 400V470M640 390V470M850 380V470" stroke="#dcdcdc" stroke-width="6"/>
<g><circle cx="425" cy="330" r="52" fill="#b5b5b5"/><circle cx="425" cy="332" r="40" fill="#3a3a3a"/><circle cx="640" cy="306" r="52" fill="#b5b5b5"/><circle cx="640" cy="308" r="40" fill="#3a3a3a"/><circle cx="850" cy="285" r="52" fill="#b5b5b5"/><circle cx="850" cy="287" r="40" fill="#3a3a3a"/></g>
<text x="428" y="248" font-size="60" fill="#666" text-anchor="middle">+</text>
<text x="640" y="210" font-size="62" fill="#555" text-anchor="middle">PE</text>
<text x="850" y="205" font-size="60" fill="#555" text-anchor="middle">–</text>
<path d="M215 440L400 492V1085L330 1080V930L215 900Z" fill="#cdcdcd"/>
<path d="M400 500L620 482V1072L400 1085Z" fill="#eeeeee" stroke="#bfbfbf" stroke-width="5"/>
<path d="M630 482L832 468V1050L630 1068Z" fill="#eeeeee" stroke="#bfbfbf" stroke-width="5"/>
<path d="M840 468L1042 458V1030L840 1048Z" fill="#eeeeee" stroke="#bfbfbf" stroke-width="5"/>
<path d="M215 440L400 492L1042 458L945 440H330Z" fill="#d8d8d8"/>
<g fill="#555" font-weight="700" font-size="50"><text x="510" y="612" text-anchor="middle" textLength="180" lengthAdjust="spacingAndGlyphs">TENGEN</text><text x="730" y="595" text-anchor="middle" textLength="170" lengthAdjust="spacingAndGlyphs">TENGEN</text><text x="940" y="580" text-anchor="middle" textLength="170" lengthAdjust="spacingAndGlyphs">TENGEN</text></g>
<path d="M405 628L618 612M632 610L830 596M842 594L1040 582" stroke="#9a9a9a" stroke-width="5"/>
<g stroke="#9b9b9b" stroke-width="9" fill="none"><path d="M450 668H580M460 705H570M430 770H470M530 765H590M430 805H460M540 800H590M430 838H475M520 833H590M430 870H460M550 866H590"/>
<path d="M670 650H800M680 685H790M655 745H695M750 740H810M655 780H685M760 775H810M655 812H700M740 808H810M655 845H685M770 840H810"/>
<path d="M880 632H1010M890 668H1000M865 720H905M960 715H1020M865 755H895M970 750H1020M865 790H910M950 785H1020M865 822H895M980 818H1020"/></g>
<g fill="#777" font-size="52" font-style="italic"><text x="510" y="952" text-anchor="middle">PV T2</text><text x="730" y="922" text-anchor="middle">PV T2</text><text x="940" y="895" text-anchor="middle">PV T2</text></g>
<g fill="#a9a9a9"><rect x="480" y="1010" width="98" height="46" rx="14"/><rect x="695" y="985" width="98" height="46" rx="14"/><rect x="900" y="960" width="98" height="46" rx="14"/></g>
<path d="M325 1085L400 1085L620 1072L630 1068L832 1050L840 1048L945 1040V1400L345 1420L325 1405Z" fill="#e0e0e0"/>
<path d="M535 1090V1410M735 1075V1405" stroke="#c2c2c2" stroke-width="8"/>
<g fill="none" stroke="#c4c4c4" stroke-width="7"><circle cx="425" cy="1175" r="52"/><circle cx="630" cy="1155" r="52"/><circle cx="830" cy="1135" r="50"/></g>
<path d="M345 1420L945 1400" stroke="#cfcfcf" stroke-width="8"/>
</g>
<g id="p_acb2" transform="translate(1990,780) scale(0.1209)">
<defs><linearGradient id="sg" x1="0" x2="1" y1="0" y2="0"><stop offset="0" stop-color="#8d8d8d"/><stop offset="0.6" stop-color="#b9b9b9"/><stop offset="1" stop-color="#d2d2d2"/></linearGradient>
<linearGradient id="hg" x1="0" x2="0" y1="0" y2="1"><stop offset="0" stop-color="#f5902c"/><stop offset="0.42" stop-color="#ef7f22"/><stop offset="0.5" stop-color="#b2481a"/><stop offset="1" stop-color="#6e2c10"/></linearGradient></defs>
<path d="M105 240L272 68L296 95L290 1300L95 1290Z" fill="url(#sg)"/>
<path d="M125 300L185 262V420L125 455Z" fill="#232324"/>
<g fill="#2a2a2b"><rect x="120" y="515" width="40" height="30"/><rect x="108" y="775" width="35" height="25"/><rect x="180" y="745" width="35" height="25"/><rect x="125" y="865" width="40" height="25"/><rect x="95" y="1130" width="30" height="30"/><rect x="175" y="1140" width="35" height="25"/><rect x="100" y="1215" width="160" height="40" rx="15"/><circle cx="205" cy="320" r="10"/><circle cx="180" cy="185" r="9"/><circle cx="235" cy="150" r="9"/></g>
<path d="M235 720H300V900H262Z" fill="#dcdcdc"/><path d="M262 740V880" stroke="#777" stroke-width="8"/>
<path d="M290 92L1150 140L1182 172V900L1150 935V1158L1182 1190V1292L285 1302Z" fill="#1c1c1e"/>
<path d="M372 190L1122 215V1130H372Z" fill="#3a3b3e"/>
<path d="M392 215L600 222V1095H392Z" fill="#36373a" stroke="#2b2c2e" stroke-width="6"/>
<path d="M612 225L1110 245V1095H612Z" fill="#3c3d40" stroke="#2b2c2e" stroke-width="6"/>
<path d="M612 830H880" stroke="#2f3032" stroke-width="7"/>
<path d="M612 226L1095 250L1090 316L606 286Z" fill="#f08a24"/>
<path d="M612 226L760 233L740 294L606 286Z" fill="#2a2622"/>
<path d="M615 284L645 228H668L638 285ZM660 287L690 230H712L682 288ZM704 290L734 232H752L725 291Z" fill="#f08a24"/>
<rect x="935" y="262" width="140" height="36" fill="#7a4a14" opacity="0.75" transform="rotate(2.8 1000 280)"/>
<rect x="865" y="365" width="86" height="722" rx="28" fill="#0e0e0f"/>
<rect x="885" y="455" width="52" height="625" fill="url(#hg)"/>
<circle cx="440" cy="480" r="11" fill="#e02a2a"/><rect x="462" y="474" width="50" height="12" fill="#a33" opacity="0.8"/>
<rect x="436" y="548" width="135" height="20" fill="#f08a24"/><rect x="445" y="575" width="120" height="8" fill="#8a8a8a"/>
<rect x="465" y="595" width="82" height="108" fill="#25262b"/>
<g fill="#f0982c"><rect x="450" y="760" width="26" height="20"/><rect x="492" y="760" width="26" height="20"/><rect x="532" y="760" width="26" height="20"/><rect x="450" y="792" width="26" height="20"/><rect x="492" y="792" width="26" height="20"/><rect x="532" y="792" width="26" height="20"/></g>
<path d="M445 845l30 25l20 -10l30 30M450 900l40 -20l35 30l25 -20M445 940h30M500 930l30 15M520 850h30" stroke="#e89a2a" stroke-width="9" fill="none"/>
<path d="M436 1025H568" stroke="#4a4b4e" stroke-width="6"/>
<rect x="640" y="570" width="242" height="102" rx="8" fill="#161617"/>
<rect x="655" y="580" width="82" height="76" rx="6" fill="#e0307a"/><circle cx="693" cy="610" r="17" fill="none" stroke="#f7b1cf" stroke-width="7"/>
<rect x="795" y="585" width="72" height="72" rx="6" fill="#7ed321"/><path d="M830 600V628" stroke="#e2f7c4" stroke-width="8"/>
<path d="M660 683H730M800 685H860" stroke="#a0522d" stroke-width="8"/>
<rect x="640" y="718" width="232" height="46" rx="6" fill="#161617"/>
<rect x="650" y="729" width="76" height="24" fill="#f08ab0"/><rect x="790" y="729" width="72" height="24" fill="#8fd14f"/>
<rect x="740" y="770" width="40" height="26" fill="#d5d5d5"/>
<g stroke="#e59a2c" stroke-width="9" fill="none"><path d="M948 572H1088" stroke-dasharray="14 8"/><path d="M950 610H1060M950 640H1020M950 690H1005M1030 680l50 -12M950 740H1000M1025 745H1080M950 785H1000M1030 775l45 -15M950 822H1088"/></g>
<g fill="#0c0c0d"><circle cx="395" cy="1118" r="17"/><circle cx="1092" cy="1118" r="17"/><circle cx="1022" cy="172" r="12"/><circle cx="1122" cy="190" r="11"/></g>
<path d="M285 1165H1182" stroke="#3a3a3c" stroke-width="8"/>
<rect x="360" y="1195" width="182" height="88" rx="10" fill="#2b2b2d"/><circle cx="460" cy="1240" r="30" fill="#101011"/><rect x="545" y="1195" width="35" height="85" fill="#2e2e30"/>
<g fill="#0b0b0c"><ellipse cx="760" cy="1233" rx="24" ry="28"/><ellipse cx="985" cy="1231" rx="22" ry="30"/><ellipse cx="1065" cy="1231" rx="22" ry="30"/><ellipse cx="1150" cy="1246" rx="18" ry="24"/><circle cx="320" cy="1225" r="16"/></g>
<ellipse cx="652" cy="1235" rx="28" ry="30" fill="#b5501c"/><path d="M632 1255L672 1215" stroke="#2a1408" stroke-width="12"/>
<ellipse cx="860" cy="1232" rx="28" ry="30" fill="#b5501c"/><path d="M850 1212L880 1235L850 1255Z" fill="#e8772a"/>
</g>
<g id="p_mccb2" transform="translate(2010,1062) scale(0.12097)">
<defs><linearGradient id="tg" x1="0" x2="1" y1="0" y2="0"><stop offset="0" stop-color="#8a8a8a"/><stop offset="1" stop-color="#a3a3a3"/></linearGradient></defs>
<path d="M645 76L866 172L870 1288L640 1366Z" fill="#232324"/>
<path d="M645 76L866 172V500L715 470V590H645Z" fill="#2e2e30"/>
<path d="M715 470L866 500L870 1288L715 1340Z" fill="#1e1e1f"/>
<path d="M120 136L647 76V588L120 578Z" fill="url(#tg)"/>
<path d="M120 195L647 145M120 460L647 430" stroke="#7c7c7c" stroke-width="6" fill="none"/>
<path d="M340 470V580" stroke="#999" stroke-width="4"/>
<g fill="#1a1a1b"><circle cx="148" cy="515" r="13"/><circle cx="608" cy="490" r="13"/><rect x="278" y="116" width="28" height="18"/><rect x="442" y="102" width="28" height="18"/></g>
<path d="M120 578L647 560V600L108 618Z" fill="#b9b9b9"/>
<path d="M108 618L642 592V1202L108 1192Z" fill="#4a4a4c"/>
<path d="M108 1090L642 1085V1202L108 1192Z" fill="#434345"/>
<path d="M108 633L637 612V656L108 678Z" fill="#f08a24"/>
<path d="M530 618l12 36l12 -37l12 36l12 -37l12 36l12 -37l12 36l12 -37" stroke="#b86210" stroke-width="6" fill="none"/>
<rect x="130" y="642" width="85" height="20" fill="#f7c48e" opacity="0.8" transform="rotate(-2.3 170 652)"/>
<rect x="135" y="800" width="138" height="262" fill="#39393b" stroke="#c9781f" stroke-width="5"/>
<rect x="458" y="796" width="152" height="266" fill="#39393b" stroke="#c9781f" stroke-width="5"/>
<g stroke="#e08a2a" stroke-width="9" fill="none"><path d="M145 822H262M150 858H255M200 910H255M195 938H260M150 1022H215M145 1048H262"/><path d="M470 818H600M520 852H595M530 880H595M535 905H595M540 930H595M500 1050H590"/></g>
<rect x="228" y="1014" width="35" height="16" fill="#f0a040"/>
<rect x="300" y="726" width="132" height="346" rx="10" fill="#6a6a6c"/>
<rect x="308" y="736" width="112" height="60" fill="#8d8d8f"/>
<rect x="322" y="845" width="72" height="188" fill="#1c1c1d"/>
<rect x="335" y="850" width="55" height="178" fill="#c8701e"/>
<path d="M340 850H390V905H340Z" fill="#f3b16a"/>
<rect x="282" y="900" width="120" height="46" rx="5" fill="#f5a040"/><rect x="282" y="900" width="120" height="14" rx="5" fill="#fbc680"/>
<circle cx="478" cy="1128" r="18" fill="#e0302c"/>
<path d="M510 1128H525" stroke="#e08a2a" stroke-width="7"/><text x="560" y="1146" font-family="'Liberation Sans',sans-serif" font-size="44" fill="#e08a2a" text-anchor="middle">TEST</text>
<path d="M128 1196L637 1205V1345L600 1366L135 1345Z" fill="#2c2c2e"/>
<g fill="#0e0e0f"><path d="M185 1345V1280Q185 1235 225 1235Q265 1235 265 1280V1350Z"/><path d="M350 1352V1285Q350 1240 390 1240Q430 1240 430 1285V1356Z"/><path d="M515 1358V1290Q515 1245 555 1245Q595 1245 595 1290V1362Z"/><rect x="285" y="1238" width="40" height="105" rx="16"/><rect x="450" y="1242" width="40" height="108" rx="16"/></g>
<g fill="#9aa0a6"><circle cx="312" cy="1300" r="9"/><circle cx="478" cy="1305" r="9"/></g>
<g fill="#161617"><circle cx="160" cy="1205" r="8"/><circle cx="630" cy="1222" r="9"/><circle cx="650" cy="580" r="10"/></g>
</g>
<g id="p_mcb" transform="translate(2005,1375) scale(0.1106)" font-family="'Liberation Sans',sans-serif">
<path d="M160 1265H285V1340H190L160 1310Z" fill="#3a3a3b"/><path d="M375 1295H480V1345H390Z" fill="#3a3a3b"/>
<path d="M120 205L300 85V1292L120 1252Z" fill="#8e8e8e"/>
<path d="M120 205L210 145V1272L120 1252Z" fill="#818181"/>
<path d="M150 560L215 540V1090L150 1075Z" fill="#9a9a9a"/>
<path d="M300 85L785 110L790 330H300Z" fill="#f1f1f1"/>
<path d="M555 100V330" stroke="#d4d4d4" stroke-width="10"/>
<circle cx="430" cy="185" r="60" fill="#d8d8d8"/><circle cx="430" cy="187" r="50" fill="#1d1d1e"/>
<circle cx="675" cy="195" r="60" fill="#d8d8d8"/><circle cx="675" cy="197" r="50" fill="#1d1d1e"/>
<path d="M300 1040H790V1270L780 1292H300Z" fill="#ececec"/>
<path d="M555 1040V1290" stroke="#d0d0d0" stroke-width="10"/>
<path d="M345 1060H520V1280H345ZM590 1060H765V1275H590Z" fill="#f3f3f3"/>
<circle cx="430" cy="1195" r="58" fill="#d2d2d2"/><circle cx="430" cy="1197" r="47" fill="#1d1d1e"/>
<circle cx="675" cy="1190" r="58" fill="#d2d2d2"/><circle cx="675" cy="1192" r="47" fill="#1d1d1e"/>
<path d="M290 385L378 340V1042L290 1012Z" fill="#a2a2a2"/>
<path d="M305 400L345 385V440L305 455Z" fill="#2a2a2b"/>
<path d="M378 340L885 362V1020L870 1042H378Z" fill="#f5f5f5"/>
<path d="M640 350V1040" stroke="#cfcfcf" stroke-width="10"/>
<path d="M400 385H617L592 442H426Z" fill="#2db5a3"/>
<text x="508" y="430" font-size="42" font-weight="700" fill="#fff" text-anchor="middle" textLength="150" lengthAdjust="spacingAndGlyphs">TENGEN</text>
<path d="M665 395L866 402L846 442L690 438Z" fill="#2db5a3"/>
<text x="500" y="478" font-size="32" font-weight="700" fill="#444" text-anchor="middle">TGB3-63</text>
<text x="450" y="535" font-size="44" fill="#444" text-anchor="middle">C63</text>
<rect x="438" y="552" width="62" height="44" fill="#e6e6e6" stroke="#9a9a9a" stroke-width="4"/><rect x="446" y="562" width="44" height="28" fill="#3ecf4a"/>
<rect x="700" y="560" width="62" height="44" fill="#e6e6e6" stroke="#9a9a9a" stroke-width="4"/><rect x="708" y="570" width="44" height="28" fill="#3ecf4a"/>
<path d="M515 560v30h20" stroke="#888" stroke-width="5" fill="none"/>
<g stroke="#777" stroke-width="7" fill="none"><path d="M425 632H490M425 655H490M425 678H490"/><path d="M810 500H850M810 515H850M830 500V530M800 630l30 15l-30 15M800 665l30 15l-30 15"/></g>
<path d="M398 722H642V850H398Z" fill="#fafafa" stroke="#d9d9d9" stroke-width="6"/>
<path d="M660 722H892V845H660Z" fill="#fafafa" stroke="#d9d9d9" stroke-width="6"/>
<path d="M440 730H600V835H440ZM705 730H860V832H705Z" fill="#4c4c4e"/>
<path d="M440 778H600M705 778H860" stroke="#2e2e2f" stroke-width="9"/>
<path d="M385 945H628V1032H385ZM652 945H880V1026H652Z" fill="#dedede"/>
<path d="M420 842L925 830L948 905L455 938L400 900Z" fill="#3c3c3e"/>
<path d="M455 862L925 850L935 880L465 900Z" fill="#777779"/>
</g>

<g id="logo">
<text x="2364" y="113" font-family="'Liberation Sans','Noto Sans CJK SC',sans-serif" font-weight="900" font-size="88" fill="#1a9d8f" textLength="175" lengthAdjust="spacingAndGlyphs">天正</text>
<text x="2365" y="161" font-family="'Liberation Sans',sans-serif" font-weight="700" font-size="40.5" fill="#8c8c8c" textLength="172" lengthAdjust="spacingAndGlyphs">TENGEN</text>
<path d="M2577.5 34V175" stroke="#c4c4c4" stroke-width="1.3"/>
<g font-family="'Liberation Sans','Noto Sans CJK SC',sans-serif" font-weight="300" fill="#1a9d8f" font-size="44">
<text transform="translate(2617,107) rotate(-17) skewX(-14)" textLength="140" lengthAdjust="spacingAndGlyphs">可信赖</text>
<text transform="translate(2650,162) rotate(-17) skewX(-14)" textLength="134" lengthAdjust="spacingAndGlyphs">更美好</text>
</g>
</g>

<g id="wires" fill="none">
 <line x1="634" y1="467" x2="979" y2="465.5" stroke="#fdb913" stroke-width="5"/>
 <line x1="1290" y1="470" x2="1518" y2="471.5" stroke="#fdb913" stroke-width="5"/>
 <line x1="1989" y1="464" x2="2290" y2="464" stroke="#808080" stroke-width="5"/>
</g>
<g id="dash" fill="none" stroke="#0aa195" stroke-width="3" stroke-dasharray="9 4.5">
 <path d="M497 709V1371H556"/>
 <path d="M497 817.5H556"/>
 <path d="M497 1057H556"/>
 <path d="M1079.5 626V1071H1137"/>
 <path d="M1079.5 805H1137"/>
 <path d="M1571 702L1569.5 1417.5H1628"/>
 <path d="M1571 876H1626"/>
 <path d="M1571 1149H1627"/>
 <path d="M1917.5 698L1915 1458.5H1968"/>
 <path d="M1917.5 863H1975"/>
 <path d="M1916.5 1152H1974"/>
</g>
</svg>
</body>
</html>
